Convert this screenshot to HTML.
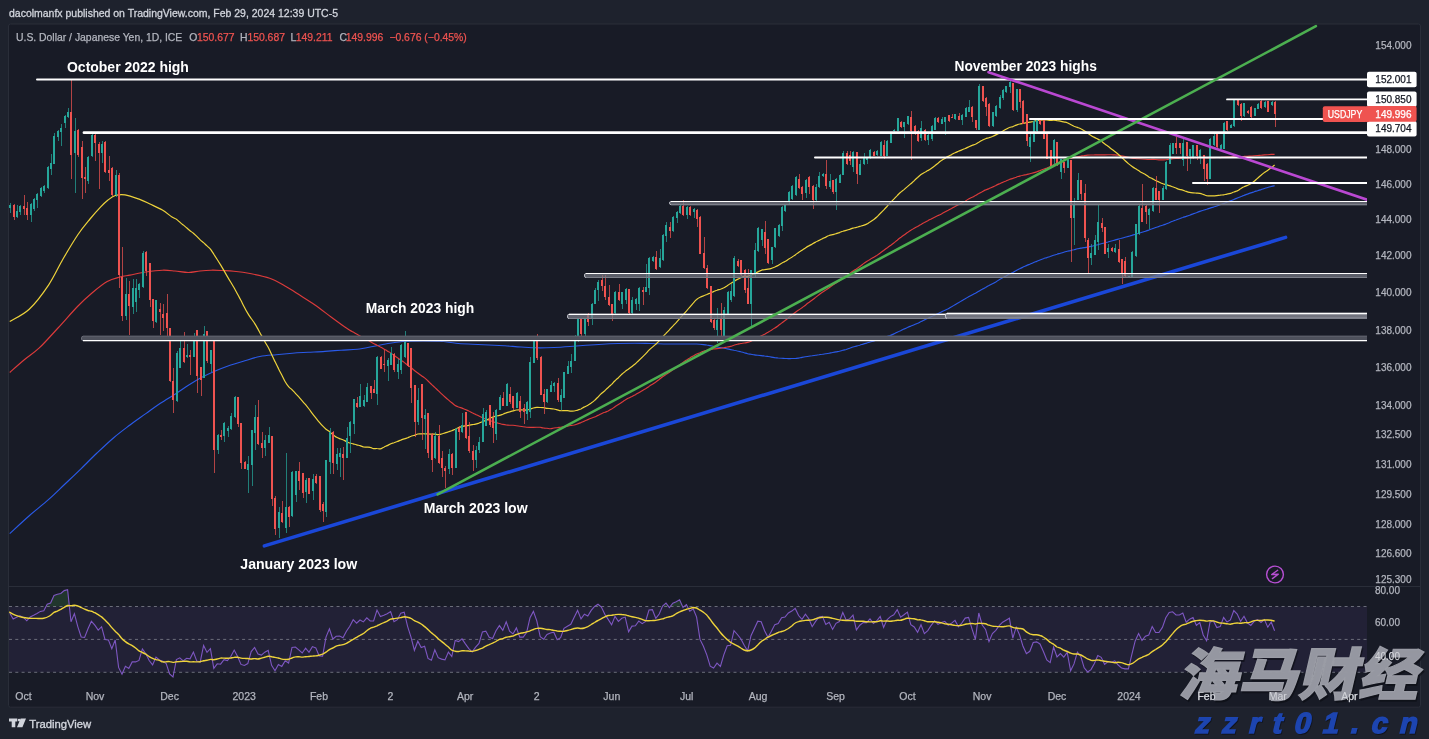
<!DOCTYPE html>
<html><head><meta charset="utf-8"><title>USDJPY chart</title>
<style>html,body{margin:0;padding:0;background:#1e222d;}body{width:1429px;height:739px;overflow:hidden;position:relative;}</style>
</head><body>
<svg width="1429" height="739" viewBox="0 0 1429 739" style="position:absolute;left:0;top:0;will-change:transform"><defs><clipPath id="cm"><rect x="9" y="24" width="1358" height="562"/></clipPath><clipPath id="cr"><rect x="9" y="587" width="1358" height="96"/></clipPath></defs><rect x="8.5" y="24" width="1412" height="683.2" rx="2" fill="#181b26" stroke="#2a2e39" stroke-width="1"/><line x1="9" y1="586.5" x2="1420" y2="586.5" stroke="#2a2e39" stroke-width="1"/><rect x="9" y="606.5" width="1358" height="65.8" fill="#7e57c2" fill-opacity="0.1"/><g clip-path="url(#cm)"><path d="M9.7,533.6 C12.9,530.7 22.5,521.7 29.0,516.0 C35.5,510.3 42.7,504.7 48.7,499.4 C54.7,494.1 59.6,489.1 65.0,484.0 C70.4,478.9 75.9,473.8 81.2,468.6 C86.5,463.4 91.6,458.1 97.0,453.0 C102.4,447.9 108.2,442.4 113.7,437.7 C119.2,433.0 124.6,429.1 130.0,425.0 C135.4,420.9 141.2,417.0 146.2,413.4 C151.2,409.8 155.1,406.8 160.0,403.5 C164.9,400.2 170.7,396.9 175.4,393.9 C180.1,390.9 183.7,388.2 188.0,385.5 C192.3,382.8 197.1,379.9 201.4,377.6 C205.7,375.3 209.7,373.4 214.0,371.5 C218.3,369.6 222.4,367.9 227.4,366.2 C232.4,364.4 238.6,362.6 244.0,361.0 C249.4,359.4 254.5,357.6 259.9,356.5 C265.3,355.4 270.8,355.2 276.2,354.7 C281.6,354.1 287.1,353.6 292.4,353.2 C297.7,352.8 302.6,352.6 308.0,352.3 C313.4,352.0 319.4,351.8 324.9,351.4 C330.4,351.0 335.6,350.6 341.0,350.2 C346.4,349.8 352.1,349.8 357.4,349.2 C362.7,348.6 367.6,347.5 373.0,346.5 C378.4,345.5 384.4,344.2 389.9,343.3 C395.4,342.4 400.6,341.6 406.1,341.2 C411.6,340.8 417.4,340.8 423.0,340.8 C428.6,340.8 434.5,340.8 440.0,341.2 C445.5,341.6 450.6,342.7 456.0,343.2 C461.4,343.7 467.0,343.9 472.5,344.2 C478.0,344.5 483.6,344.7 489.0,345.0 C494.4,345.3 499.7,345.5 505.0,345.8 C510.3,346.1 515.6,346.7 521.0,347.0 C526.4,347.3 532.0,347.7 537.5,347.8 C543.0,347.9 548.6,347.7 554.0,347.5 C559.4,347.3 564.7,346.9 570.0,346.5 C575.3,346.1 580.6,345.7 586.0,345.3 C591.4,344.9 597.1,344.5 602.4,344.2 C607.7,343.9 612.6,343.7 618.0,343.5 C623.4,343.3 629.4,343.2 634.9,343.2 C640.4,343.2 645.6,343.4 651.0,343.5 C656.4,343.6 661.5,343.9 667.4,344.0 C673.3,344.1 682.6,344.0 686.4,344.0 C690.1,344.0 688.6,344.0 689.8,344.0 C690.9,344.0 692.0,344.0 693.2,344.0 C694.3,344.0 695.4,344.0 696.6,344.0 C697.7,344.1 698.8,344.2 700.0,344.3 C701.1,344.4 702.2,344.5 703.4,344.6 C704.5,344.7 705.6,344.8 706.8,345.0 C707.9,345.1 709.0,345.4 710.2,345.6 C711.3,345.8 712.4,346.0 713.6,346.3 C714.7,346.5 715.8,346.7 717.0,346.9 C718.1,347.1 719.2,347.4 720.4,347.6 C721.5,347.9 722.6,348.1 723.8,348.3 C724.9,348.5 726.0,348.7 727.2,348.9 C728.3,349.2 729.4,349.4 730.6,349.6 C731.7,349.8 732.8,350.0 734.0,350.3 C735.1,350.5 736.2,350.7 737.4,351.0 C738.5,351.2 739.6,351.5 740.8,351.8 C741.9,352.0 743.0,352.4 744.2,352.7 C745.3,353.0 746.4,353.4 747.6,353.7 C748.7,354.0 749.8,354.1 751.0,354.3 C752.1,354.5 753.2,354.8 754.4,354.9 C755.5,355.1 756.6,355.2 757.8,355.3 C758.9,355.4 760.0,355.5 761.2,355.6 C762.3,355.7 763.4,355.8 764.6,356.0 C765.7,356.1 766.8,356.3 768.0,356.5 C769.1,356.7 770.2,356.9 771.4,357.1 C772.5,357.3 773.6,357.4 774.8,357.6 C775.9,357.7 777.0,357.8 778.2,358.0 C779.3,358.1 780.4,358.2 781.6,358.3 C782.7,358.4 783.8,358.4 785.0,358.5 C786.1,358.5 787.2,358.6 788.4,358.6 C789.5,358.6 790.6,358.5 791.8,358.5 C792.9,358.5 794.0,358.6 795.2,358.5 C796.3,358.5 797.4,358.3 798.6,358.1 C799.7,357.9 800.8,357.6 802.0,357.4 C803.1,357.2 804.2,357.0 805.4,356.8 C806.5,356.6 807.6,356.4 808.8,356.2 C809.9,356.0 811.0,355.9 812.2,355.8 C813.3,355.6 814.4,355.4 815.6,355.2 C816.7,355.1 817.8,354.8 819.0,354.7 C820.1,354.5 821.2,354.4 822.4,354.3 C823.5,354.1 824.6,354.0 825.8,353.8 C826.9,353.6 828.0,353.4 829.2,353.2 C830.3,353.0 831.4,352.7 832.6,352.5 C833.7,352.3 834.8,352.1 836.0,351.9 C837.1,351.7 838.2,351.4 839.4,351.2 C840.5,350.9 841.6,350.6 842.8,350.3 C843.9,350.0 845.0,349.8 846.2,349.5 C847.3,349.1 848.4,348.7 849.6,348.3 C850.7,347.9 851.8,347.4 853.0,347.0 C854.1,346.7 855.2,346.4 856.4,346.1 C857.5,345.8 858.6,345.5 859.8,345.2 C860.9,344.8 862.0,344.5 863.2,344.1 C864.3,343.8 865.4,343.4 866.6,343.1 C867.7,342.7 868.8,342.4 870.0,342.0 C871.1,341.7 872.2,341.4 873.4,341.1 C874.5,340.7 875.6,340.3 876.8,339.9 C877.9,339.5 879.0,339.0 880.2,338.7 C881.3,338.3 882.4,338.1 883.6,337.8 C884.7,337.4 885.8,337.0 887.0,336.6 C888.1,336.2 889.2,336.0 890.4,335.5 C891.5,335.0 892.6,334.4 893.8,333.9 C894.9,333.3 896.0,332.8 897.2,332.2 C898.3,331.7 899.4,331.2 900.6,330.7 C901.7,330.1 902.8,329.7 904.0,329.1 C905.1,328.6 906.2,328.0 907.4,327.5 C908.5,327.0 909.6,326.5 910.8,326.1 C911.9,325.6 913.0,325.2 914.2,324.7 C915.3,324.3 916.4,323.8 917.6,323.3 C918.7,322.8 919.8,322.2 921.0,321.6 C922.1,321.0 923.2,320.5 924.4,319.9 C925.5,319.4 926.6,318.8 927.8,318.3 C928.9,317.7 930.0,317.3 931.2,316.7 C932.3,316.2 933.4,315.7 934.6,315.2 C935.7,314.7 936.8,314.1 938.0,313.6 C939.1,313.0 940.2,312.5 941.4,311.9 C942.5,311.4 943.6,310.8 944.8,310.3 C945.9,309.7 947.0,309.3 948.2,308.7 C949.3,308.1 950.4,307.4 951.6,306.8 C952.7,306.1 953.8,305.4 955.0,304.7 C956.1,304.1 957.2,303.4 958.4,302.8 C959.5,302.1 960.6,301.4 961.8,300.7 C962.9,300.1 964.0,299.4 965.2,298.8 C966.3,298.1 967.4,297.4 968.6,296.7 C969.7,296.1 970.8,295.5 972.0,294.9 C973.1,294.4 974.2,293.8 975.4,293.2 C976.5,292.6 977.6,291.9 978.8,291.2 C979.9,290.6 981.0,289.9 982.2,289.3 C983.3,288.6 984.4,288.0 985.6,287.4 C986.7,286.8 987.8,286.2 989.0,285.6 C990.1,285.0 991.2,284.4 992.4,283.8 C993.5,283.1 994.6,282.5 995.8,281.9 C996.9,281.2 998.0,280.5 999.2,279.8 C1000.3,279.1 1001.4,278.4 1002.6,277.7 C1003.7,277.1 1004.8,276.5 1006.0,275.9 C1007.1,275.3 1008.2,274.7 1009.4,274.1 C1010.5,273.5 1011.6,273.0 1012.8,272.4 C1013.9,271.8 1015.0,271.1 1016.2,270.5 C1017.3,269.9 1018.4,269.3 1019.6,268.8 C1020.7,268.2 1021.8,267.6 1023.0,267.1 C1024.1,266.6 1025.2,266.1 1026.4,265.6 C1027.5,265.2 1028.6,264.7 1029.8,264.2 C1030.9,263.8 1032.0,263.3 1033.2,262.8 C1034.3,262.4 1035.4,261.9 1036.6,261.4 C1037.7,260.9 1038.8,260.5 1040.0,260.0 C1041.1,259.6 1042.2,259.1 1043.4,258.7 C1044.5,258.3 1045.6,258.0 1046.8,257.6 C1047.9,257.2 1049.0,256.9 1050.2,256.5 C1051.3,256.1 1052.4,255.6 1053.6,255.2 C1054.7,254.9 1055.8,254.6 1057.0,254.3 C1058.1,253.9 1059.2,253.6 1060.4,253.2 C1061.5,252.9 1062.6,252.6 1063.8,252.2 C1064.9,251.9 1066.0,251.5 1067.2,251.2 C1068.3,251.0 1069.4,250.8 1070.6,250.6 C1071.7,250.3 1072.8,250.0 1074.0,249.8 C1075.1,249.5 1076.2,249.1 1077.4,248.8 C1078.5,248.6 1079.6,248.3 1080.8,248.1 C1081.9,247.9 1083.0,247.8 1084.2,247.6 C1085.3,247.4 1086.4,247.3 1087.6,247.1 C1088.7,246.9 1089.8,246.7 1091.0,246.4 C1092.1,246.1 1093.2,245.8 1094.4,245.5 C1095.5,245.2 1096.6,245.0 1097.8,244.7 C1098.9,244.4 1100.0,244.0 1101.2,243.7 C1102.3,243.5 1103.4,243.3 1104.6,243.0 C1105.7,242.7 1106.8,242.3 1108.0,242.0 C1109.1,241.6 1110.2,241.3 1111.4,241.0 C1112.5,240.7 1113.6,240.4 1114.8,240.1 C1115.9,239.8 1117.0,239.4 1118.2,239.1 C1119.3,238.8 1120.4,238.5 1121.6,238.2 C1122.7,237.9 1123.8,237.6 1125.0,237.3 C1126.1,237.0 1127.2,236.7 1128.4,236.4 C1129.5,236.1 1130.6,235.7 1131.8,235.4 C1132.9,235.0 1134.0,234.7 1135.2,234.4 C1136.3,234.0 1137.4,233.6 1138.6,233.3 C1139.7,233.0 1140.8,232.7 1142.0,232.3 C1143.1,232.0 1144.2,231.6 1145.4,231.2 C1146.5,230.9 1147.6,230.5 1148.8,230.1 C1149.9,229.7 1151.0,229.2 1152.2,228.8 C1153.3,228.3 1154.4,227.9 1155.6,227.5 C1156.7,227.2 1157.8,226.8 1159.0,226.4 C1160.1,226.0 1161.2,225.7 1162.4,225.3 C1163.5,224.9 1164.6,224.5 1165.8,224.1 C1166.9,223.6 1168.0,223.2 1169.2,222.7 C1170.3,222.2 1171.4,221.7 1172.6,221.3 C1173.7,220.9 1174.8,220.4 1176.0,220.0 C1177.1,219.6 1178.2,219.2 1179.4,218.8 C1180.5,218.4 1181.6,217.9 1182.8,217.5 C1183.9,217.1 1185.0,216.8 1186.2,216.4 C1187.3,216.0 1188.4,215.6 1189.6,215.2 C1190.7,214.7 1191.8,214.3 1193.0,213.9 C1194.1,213.5 1195.2,213.1 1196.4,212.7 C1197.5,212.3 1198.6,211.9 1199.8,211.4 C1200.9,211.0 1202.0,210.6 1203.2,210.3 C1204.3,209.9 1205.4,209.5 1206.6,209.2 C1207.7,208.8 1208.8,208.4 1210.0,208.1 C1211.1,207.7 1212.2,207.4 1213.4,207.1 C1214.5,206.7 1215.6,206.4 1216.8,206.0 C1217.9,205.7 1219.0,205.2 1220.2,204.8 C1221.3,204.4 1222.4,203.9 1223.6,203.5 C1224.7,203.0 1225.8,202.6 1227.0,202.2 C1228.1,201.8 1229.2,201.4 1230.4,200.9 C1231.5,200.5 1232.6,200.0 1233.8,199.5 C1234.9,199.0 1236.0,198.5 1237.2,198.1 C1238.3,197.6 1239.4,197.2 1240.6,196.7 C1241.7,196.3 1242.8,195.8 1244.0,195.4 C1245.1,195.0 1246.2,194.5 1247.4,194.1 C1248.5,193.7 1249.6,193.3 1250.8,192.9 C1251.9,192.6 1253.0,192.2 1254.2,191.8 C1255.3,191.4 1256.4,191.1 1257.6,190.7 C1258.7,190.4 1259.8,190.0 1261.0,189.6 C1262.1,189.2 1263.2,188.9 1264.4,188.5 C1265.5,188.2 1266.6,187.8 1267.8,187.5 C1268.9,187.2 1270.0,186.8 1271.2,186.5 C1272.3,186.2 1274.0,185.8 1274.6,185.6" fill="none" stroke="#2a5ae8" stroke-width="1.15"/><path d="M9.7,372.5 C12.1,370.4 19.1,364.1 24.0,360.0 C28.9,355.9 33.3,353.5 39.0,348.2 C44.7,342.9 51.5,335.0 58.0,328.0 C64.5,321.0 72.3,311.8 78.0,306.0 C83.7,300.2 87.1,297.1 92.0,293.0 C96.9,288.9 102.5,284.3 107.2,281.6 C111.9,278.9 116.2,278.1 120.0,277.0 C123.8,275.9 125.7,275.9 130.0,275.1 C134.3,274.3 140.6,272.8 146.0,272.0 C151.4,271.2 157.6,270.4 162.4,270.2 C167.2,270.0 170.7,270.6 175.0,271.0 C179.3,271.4 184.2,272.5 188.4,272.5 C192.6,272.5 196.2,271.4 200.0,271.0 C203.8,270.6 207.5,270.3 211.2,270.2 C214.9,270.1 218.2,270.3 222.0,270.5 C225.8,270.7 229.2,270.7 233.9,271.2 C238.6,271.7 244.0,272.3 250.0,273.5 C256.0,274.7 263.9,276.2 269.7,278.3 C275.5,280.4 280.1,283.3 285.0,286.0 C289.9,288.7 293.9,291.4 298.9,294.6 C303.9,297.8 309.6,301.2 315.0,305.0 C320.4,308.8 326.9,314.0 331.4,317.3 C335.9,320.6 339.5,323.2 342.0,325.0 C344.5,326.8 345.1,327.2 346.4,328.0 C347.7,328.9 348.6,329.5 349.8,330.2 C350.9,330.9 352.0,331.4 353.2,332.0 C354.3,332.7 355.4,333.4 356.6,334.0 C357.7,334.7 358.8,335.3 360.0,335.9 C361.1,336.6 362.2,337.3 363.4,337.9 C364.5,338.5 365.6,339.0 366.8,339.6 C367.9,340.2 369.0,340.9 370.2,341.5 C371.3,342.2 372.4,342.9 373.6,343.5 C374.7,344.1 375.8,344.6 377.0,345.2 C378.1,345.8 379.2,346.4 380.4,347.1 C381.5,347.7 382.6,348.3 383.8,348.9 C384.9,349.5 386.0,350.2 387.2,350.9 C388.3,351.6 389.4,352.1 390.6,352.9 C391.7,353.6 392.8,354.5 394.0,355.3 C395.1,356.1 396.2,356.9 397.4,357.7 C398.5,358.5 399.6,359.2 400.8,360.0 C401.9,360.8 403.0,361.5 404.2,362.4 C405.3,363.2 406.4,364.2 407.6,365.0 C408.7,365.9 409.8,366.6 411.0,367.5 C412.1,368.4 413.2,369.6 414.4,370.5 C415.5,371.4 416.6,372.2 417.8,373.0 C418.9,373.9 420.0,374.7 421.2,375.5 C422.3,376.3 423.4,377.0 424.6,377.9 C425.7,378.8 426.8,379.9 428.0,381.0 C429.1,382.0 430.2,383.3 431.4,384.3 C432.5,385.4 433.6,386.3 434.8,387.4 C435.9,388.4 437.0,389.5 438.2,390.6 C439.3,391.7 440.4,392.9 441.6,393.9 C442.7,395.0 443.8,396.0 445.0,397.0 C446.1,398.0 447.2,399.0 448.4,399.9 C449.5,400.9 450.6,401.8 451.8,402.7 C452.9,403.6 454.0,404.7 455.2,405.4 C456.3,406.1 457.4,406.5 458.6,407.0 C459.7,407.4 460.8,407.7 462.0,408.1 C463.1,408.5 464.2,409.1 465.4,409.5 C466.5,410.0 467.6,410.5 468.8,411.0 C469.9,411.5 471.0,412.2 472.2,412.8 C473.3,413.3 474.4,413.9 475.6,414.4 C476.7,414.9 477.8,415.5 479.0,416.0 C480.1,416.6 481.2,417.2 482.4,417.7 C483.5,418.2 484.6,418.7 485.8,419.1 C486.9,419.6 488.0,420.0 489.2,420.4 C490.3,420.8 491.4,421.1 492.6,421.5 C493.7,421.9 494.8,422.3 496.0,422.6 C497.1,423.0 498.2,423.2 499.4,423.5 C500.5,423.8 501.6,424.2 502.8,424.4 C503.9,424.6 505.0,424.8 506.2,425.0 C507.3,425.1 508.4,425.1 509.6,425.2 C510.7,425.2 511.8,425.2 513.0,425.3 C514.1,425.4 515.2,425.5 516.4,425.7 C517.5,425.9 518.6,426.1 519.8,426.3 C520.9,426.5 522.0,426.7 523.2,426.8 C524.3,427.0 525.4,427.2 526.6,427.3 C527.7,427.4 528.8,427.4 530.0,427.4 C531.1,427.4 532.2,427.4 533.4,427.4 C534.5,427.3 535.6,427.2 536.8,427.2 C537.9,427.2 539.0,427.2 540.2,427.3 C541.3,427.5 542.4,427.9 543.6,428.0 C544.7,428.2 545.8,428.2 547.0,428.3 C548.1,428.4 549.2,428.7 550.4,428.7 C551.5,428.6 552.6,428.2 553.8,428.0 C554.9,427.8 556.0,427.8 557.2,427.7 C558.3,427.5 559.4,427.4 560.6,427.2 C561.7,427.1 562.8,426.9 564.0,426.7 C565.1,426.5 566.2,426.3 567.4,426.1 C568.5,425.9 569.6,425.7 570.8,425.5 C571.9,425.3 573.0,425.2 574.2,425.0 C575.3,424.7 576.4,424.3 577.6,423.9 C578.7,423.5 579.8,423.1 581.0,422.6 C582.1,422.1 583.2,421.6 584.4,421.1 C585.5,420.6 586.6,420.1 587.8,419.6 C588.9,419.2 590.0,418.8 591.2,418.3 C592.3,417.9 593.4,417.5 594.6,417.0 C595.7,416.6 596.8,415.9 598.0,415.4 C599.1,414.8 600.2,414.3 601.4,413.7 C602.5,413.2 603.6,412.7 604.8,412.3 C605.9,411.8 607.0,411.5 608.2,411.0 C609.3,410.4 610.4,409.8 611.6,409.1 C612.7,408.4 613.8,407.5 615.0,406.7 C616.1,406.0 617.2,405.4 618.4,404.6 C619.5,403.9 620.6,403.1 621.8,402.3 C622.9,401.6 624.0,400.8 625.2,400.1 C626.3,399.4 627.4,398.7 628.6,398.1 C629.7,397.5 630.8,397.0 632.0,396.4 C633.1,395.8 634.2,395.3 635.4,394.7 C636.5,394.0 637.6,393.4 638.8,392.7 C639.9,392.1 641.0,391.4 642.2,390.7 C643.3,390.1 644.4,389.5 645.6,388.8 C646.7,388.1 647.8,387.2 649.0,386.4 C650.1,385.6 651.2,384.9 652.4,384.2 C653.5,383.4 654.6,382.8 655.8,382.0 C656.9,381.2 658.0,380.4 659.2,379.5 C660.3,378.6 661.4,377.6 662.6,376.7 C663.7,375.9 664.8,375.1 666.0,374.4 C667.1,373.6 668.2,373.1 669.4,372.3 C670.5,371.6 671.6,370.6 672.8,369.8 C673.9,369.0 675.0,368.2 676.2,367.4 C677.3,366.5 678.4,365.7 679.6,364.9 C680.7,364.0 681.8,363.2 683.0,362.4 C684.1,361.6 685.2,360.8 686.4,360.1 C687.5,359.3 688.6,358.6 689.8,358.0 C690.9,357.3 692.0,356.7 693.2,356.0 C694.3,355.4 695.4,354.7 696.6,354.1 C697.7,353.5 698.8,353.1 700.0,352.7 C701.1,352.2 702.2,351.7 703.4,351.3 C704.5,351.0 705.6,350.6 706.8,350.3 C707.9,350.1 709.0,349.9 710.2,349.6 C711.3,349.4 712.4,349.2 713.6,349.0 C714.7,348.8 715.8,348.7 717.0,348.6 C718.1,348.5 719.2,348.4 720.4,348.2 C721.5,348.1 722.6,347.9 723.8,347.7 C724.9,347.5 726.0,347.2 727.2,347.0 C728.3,346.8 729.4,346.7 730.6,346.4 C731.7,346.1 732.8,345.6 734.0,345.2 C735.1,344.9 736.2,344.5 737.4,344.2 C738.5,344.0 739.6,343.7 740.8,343.5 C741.9,343.3 743.0,343.2 744.2,343.0 C745.3,342.8 746.4,342.7 747.6,342.4 C748.7,342.1 749.8,341.7 751.0,341.2 C752.1,340.7 753.2,340.1 754.4,339.5 C755.5,338.9 756.6,338.3 757.8,337.7 C758.9,337.1 760.0,336.4 761.2,335.8 C762.3,335.2 763.4,334.8 764.6,334.2 C765.7,333.6 766.8,332.9 768.0,332.3 C769.1,331.6 770.2,330.9 771.4,330.2 C772.5,329.5 773.6,328.8 774.8,328.1 C775.9,327.4 777.0,326.6 778.2,325.7 C779.3,324.9 780.4,324.0 781.6,323.1 C782.7,322.3 783.8,321.4 785.0,320.5 C786.1,319.6 787.2,318.8 788.4,317.9 C789.5,317.0 790.6,315.9 791.8,315.1 C792.9,314.2 794.0,313.4 795.2,312.5 C796.3,311.7 797.4,310.9 798.6,310.1 C799.7,309.3 800.8,308.6 802.0,307.8 C803.1,307.0 804.2,306.1 805.4,305.2 C806.5,304.3 807.6,303.4 808.8,302.6 C809.9,301.7 811.0,300.9 812.2,300.0 C813.3,299.1 814.4,298.3 815.6,297.4 C816.7,296.5 817.8,295.6 819.0,294.7 C820.1,293.9 821.2,293.1 822.4,292.3 C823.5,291.6 824.6,290.9 825.8,290.1 C826.9,289.3 828.0,288.5 829.2,287.7 C830.3,286.9 831.4,286.1 832.6,285.3 C833.7,284.5 834.8,283.8 836.0,283.0 C837.1,282.3 838.2,281.6 839.4,280.8 C840.5,280.0 841.6,279.1 842.8,278.3 C843.9,277.5 845.0,276.8 846.2,276.1 C847.3,275.3 848.4,274.5 849.6,273.7 C850.7,272.8 851.8,271.9 853.0,271.1 C854.1,270.3 855.2,269.7 856.4,268.9 C857.5,268.2 858.6,267.3 859.8,266.5 C860.9,265.6 862.0,264.8 863.2,263.9 C864.3,263.1 865.4,262.3 866.6,261.5 C867.7,260.8 868.8,260.1 870.0,259.4 C871.1,258.7 872.2,258.2 873.4,257.5 C874.5,256.9 875.6,256.2 876.8,255.5 C877.9,254.7 879.0,253.8 880.2,253.0 C881.3,252.1 882.4,251.3 883.6,250.5 C884.7,249.7 885.8,248.9 887.0,248.1 C888.1,247.2 889.2,246.4 890.4,245.6 C891.5,244.7 892.6,243.9 893.8,243.0 C894.9,242.2 896.0,241.1 897.2,240.2 C898.3,239.3 899.4,238.4 900.6,237.6 C901.7,236.7 902.8,235.9 904.0,235.1 C905.1,234.3 906.2,233.4 907.4,232.6 C908.5,231.8 909.6,231.0 910.8,230.3 C911.9,229.6 913.0,228.9 914.2,228.2 C915.3,227.6 916.4,227.1 917.6,226.5 C918.7,225.8 919.8,225.0 921.0,224.4 C922.1,223.8 923.2,223.2 924.4,222.6 C925.5,222.0 926.6,221.4 927.8,220.8 C928.9,220.1 930.0,219.6 931.2,219.0 C932.3,218.4 933.4,217.8 934.6,217.2 C935.7,216.7 936.8,216.2 938.0,215.6 C939.1,215.1 940.2,214.5 941.4,214.0 C942.5,213.4 943.6,212.8 944.8,212.1 C945.9,211.5 947.0,210.9 948.2,210.3 C949.3,209.7 950.4,209.0 951.6,208.4 C952.7,207.7 953.8,207.2 955.0,206.6 C956.1,206.0 957.2,205.4 958.4,204.8 C959.5,204.2 960.6,203.6 961.8,203.0 C962.9,202.4 964.0,201.8 965.2,201.2 C966.3,200.5 967.4,199.8 968.6,199.1 C969.7,198.5 970.8,197.9 972.0,197.3 C973.1,196.7 974.2,196.2 975.4,195.6 C976.5,195.0 977.6,194.2 978.8,193.6 C979.9,192.9 981.0,192.3 982.2,191.7 C983.3,191.1 984.4,190.4 985.6,189.9 C986.7,189.4 987.8,189.0 989.0,188.6 C990.1,188.1 991.2,187.6 992.4,187.1 C993.5,186.6 994.6,186.0 995.8,185.5 C996.9,184.9 998.0,184.4 999.2,183.9 C1000.3,183.4 1001.4,182.9 1002.6,182.4 C1003.7,181.9 1004.8,181.5 1006.0,181.0 C1007.1,180.5 1008.2,179.9 1009.4,179.5 C1010.5,179.1 1011.6,178.8 1012.8,178.4 C1013.9,178.0 1015.0,177.6 1016.2,177.2 C1017.3,176.8 1018.4,176.5 1019.6,176.1 C1020.7,175.8 1021.8,175.5 1023.0,175.2 C1024.1,175.0 1025.2,174.8 1026.4,174.6 C1027.5,174.3 1028.6,174.1 1029.8,173.8 C1030.9,173.5 1032.0,173.2 1033.2,172.9 C1034.3,172.6 1035.4,172.3 1036.6,171.9 C1037.7,171.5 1038.8,171.0 1040.0,170.6 C1041.1,170.2 1042.2,169.8 1043.4,169.3 C1044.5,168.9 1045.6,168.5 1046.8,168.1 C1047.9,167.6 1049.0,167.1 1050.2,166.6 C1051.3,166.0 1052.4,165.3 1053.6,164.7 C1054.7,164.2 1055.8,163.8 1057.0,163.2 C1058.1,162.7 1059.2,162.1 1060.4,161.6 C1061.5,161.1 1062.6,160.6 1063.8,160.2 C1064.9,159.7 1066.0,159.2 1067.2,158.9 C1068.3,158.6 1069.4,158.4 1070.6,158.2 C1071.7,158.0 1072.8,157.9 1074.0,157.7 C1075.1,157.5 1076.2,157.1 1077.4,156.8 C1078.5,156.6 1079.6,156.3 1080.8,156.1 C1081.9,155.8 1083.0,155.7 1084.2,155.6 C1085.3,155.4 1086.4,155.2 1087.6,155.1 C1088.7,155.0 1089.8,155.0 1091.0,155.0 C1092.1,154.9 1093.2,154.9 1094.4,154.9 C1095.5,154.8 1096.6,154.8 1097.8,154.8 C1098.9,154.8 1100.0,154.8 1101.2,154.8 C1102.3,154.8 1103.4,154.9 1104.6,154.9 C1105.7,154.8 1106.8,154.7 1108.0,154.7 C1109.1,154.7 1110.2,154.7 1111.4,154.7 C1112.5,154.8 1113.6,154.9 1114.8,154.9 C1115.9,155.0 1117.0,155.1 1118.2,155.3 C1119.3,155.5 1120.4,155.7 1121.6,155.9 C1122.7,156.2 1123.8,156.4 1125.0,156.6 C1126.1,156.9 1127.2,157.2 1128.4,157.4 C1129.5,157.7 1130.6,157.9 1131.8,158.1 C1132.9,158.3 1134.0,158.4 1135.2,158.5 C1136.3,158.7 1137.4,158.7 1138.6,158.7 C1139.7,158.8 1140.8,158.9 1142.0,159.0 C1143.1,159.1 1144.2,159.2 1145.4,159.3 C1146.5,159.4 1147.6,159.5 1148.8,159.5 C1149.9,159.5 1151.0,159.4 1152.2,159.4 C1153.3,159.4 1154.4,159.5 1155.6,159.5 C1156.7,159.6 1157.8,159.7 1159.0,159.8 C1160.1,159.8 1161.2,159.9 1162.4,159.9 C1163.5,159.9 1164.6,159.8 1165.8,159.7 C1166.9,159.6 1168.0,159.5 1169.2,159.3 C1170.3,159.2 1171.4,159.0 1172.6,158.8 C1173.7,158.7 1174.8,158.6 1176.0,158.5 C1177.1,158.4 1178.2,158.3 1179.4,158.3 C1180.5,158.2 1181.6,158.2 1182.8,158.2 C1183.9,158.1 1185.0,158.1 1186.2,158.1 C1187.3,158.0 1188.4,158.0 1189.6,158.0 C1190.7,157.9 1191.8,157.9 1193.0,157.9 C1194.1,157.8 1195.2,157.8 1196.4,157.7 C1197.5,157.7 1198.6,157.6 1199.8,157.6 C1200.9,157.6 1202.0,157.6 1203.2,157.7 C1204.3,157.7 1205.4,157.9 1206.6,157.9 C1207.7,157.9 1208.8,157.8 1210.0,157.8 C1211.1,157.7 1212.2,157.6 1213.4,157.6 C1214.5,157.5 1215.6,157.5 1216.8,157.5 C1217.9,157.5 1219.0,157.6 1220.2,157.6 C1221.3,157.5 1222.4,157.3 1223.6,157.2 C1224.7,157.2 1225.8,157.2 1227.0,157.1 C1228.1,157.1 1229.2,157.1 1230.4,157.0 C1231.5,157.0 1232.6,156.8 1233.8,156.7 C1234.9,156.6 1236.0,156.6 1237.2,156.6 C1238.3,156.5 1239.4,156.5 1240.6,156.5 C1241.7,156.4 1242.8,156.3 1244.0,156.3 C1245.1,156.2 1246.2,156.3 1247.4,156.3 C1248.5,156.2 1249.6,156.2 1250.8,156.1 C1251.9,156.0 1253.0,156.0 1254.2,155.8 C1255.3,155.7 1256.4,155.6 1257.6,155.5 C1258.7,155.4 1259.8,155.4 1261.0,155.3 C1262.1,155.2 1263.2,155.0 1264.4,154.9 C1265.5,154.8 1266.6,154.7 1267.8,154.7 C1268.9,154.6 1270.0,154.5 1271.2,154.4 C1272.3,154.4 1274.0,154.4 1274.6,154.4" fill="none" stroke="#dc3b3b" stroke-width="1.15"/><path d="M9.7,321.5 C12.9,319.4 22.7,315.3 29.2,309.2 C35.7,303.1 43.1,293.2 48.7,284.8 C54.3,276.4 58.1,267.4 63.0,259.0 C67.9,250.6 73.5,241.2 78.0,234.5 C82.5,227.8 86.2,223.6 90.0,219.0 C93.8,214.4 97.7,210.1 100.7,206.9 C103.7,203.7 105.6,201.9 108.0,200.0 C110.4,198.1 112.5,196.4 115.3,195.5 C118.1,194.6 120.9,194.2 125.0,194.8 C129.1,195.5 135.5,197.9 139.7,199.4 C143.9,200.9 146.2,202.2 150.0,204.0 C153.8,205.8 158.7,207.9 162.4,210.1 C166.1,212.3 169.7,215.5 172.0,217.0 C174.3,218.5 175.1,218.5 176.4,219.3 C177.7,220.2 178.6,221.2 179.8,222.1 C180.9,223.1 182.0,224.0 183.2,224.9 C184.3,225.9 185.4,226.8 186.6,227.8 C187.7,228.7 188.8,229.8 190.0,230.7 C191.1,231.6 192.2,232.3 193.4,233.3 C194.5,234.3 195.6,235.3 196.8,236.4 C197.9,237.5 199.0,238.9 200.2,239.9 C201.3,240.9 202.4,241.6 203.6,242.6 C204.7,243.6 205.8,244.8 207.0,245.9 C208.1,247.0 209.2,247.7 210.4,249.1 C211.5,250.5 212.6,252.5 213.8,254.2 C214.9,256.0 216.0,257.7 217.2,259.5 C218.3,261.3 219.4,263.1 220.6,264.9 C221.7,266.8 222.8,268.7 224.0,270.6 C225.1,272.6 226.2,274.6 227.4,276.6 C228.5,278.5 229.6,280.4 230.8,282.3 C231.9,284.2 233.0,286.0 234.2,288.0 C235.3,290.0 236.4,292.2 237.6,294.3 C238.7,296.4 239.8,298.3 241.0,300.5 C242.1,302.6 243.2,305.1 244.4,307.2 C245.5,309.4 246.6,311.5 247.8,313.4 C248.9,315.3 250.0,316.8 251.2,318.5 C252.3,320.1 253.4,321.5 254.6,323.3 C255.7,325.0 256.8,327.1 258.0,329.1 C259.1,331.1 260.2,333.4 261.4,335.4 C262.5,337.5 263.6,339.5 264.8,341.5 C265.9,343.5 267.0,345.1 268.2,347.3 C269.3,349.4 270.4,352.0 271.6,354.4 C272.7,356.8 273.8,359.3 275.0,361.6 C276.1,363.9 277.2,366.2 278.4,368.4 C279.5,370.7 280.6,372.8 281.8,375.0 C282.9,377.2 284.0,379.8 285.2,381.8 C286.3,383.7 287.4,385.3 288.6,386.6 C289.7,387.9 290.8,388.6 292.0,389.7 C293.1,390.8 294.2,392.1 295.4,393.3 C296.5,394.4 297.6,395.5 298.8,396.8 C299.9,398.0 301.0,399.5 302.2,400.9 C303.3,402.2 304.4,403.4 305.6,404.7 C306.7,406.1 307.8,407.5 309.0,409.0 C310.1,410.4 311.2,412.1 312.4,413.6 C313.5,415.1 314.6,416.5 315.8,417.9 C316.9,419.3 318.0,420.8 319.2,422.1 C320.3,423.4 321.4,424.7 322.6,425.9 C323.7,427.1 324.8,428.2 326.0,429.2 C327.1,430.1 328.2,430.7 329.4,431.6 C330.5,432.5 331.6,433.7 332.8,434.6 C333.9,435.5 335.0,436.5 336.2,437.1 C337.3,437.8 338.4,438.2 339.6,438.6 C340.7,439.0 341.8,439.3 343.0,439.8 C344.1,440.2 345.2,440.9 346.4,441.5 C347.5,442.0 348.6,442.6 349.8,443.0 C350.9,443.4 352.0,443.5 353.2,443.8 C354.3,444.1 355.4,444.5 356.6,444.8 C357.7,445.1 358.8,445.3 360.0,445.6 C361.1,446.0 362.2,446.6 363.4,446.9 C364.5,447.1 365.6,447.0 366.8,447.1 C367.9,447.2 369.0,447.1 370.2,447.4 C371.3,447.6 372.4,448.4 373.6,448.6 C374.7,448.8 375.8,448.4 377.0,448.5 C378.1,448.5 379.2,449.1 380.4,448.9 C381.5,448.7 382.6,447.7 383.8,447.2 C384.9,446.6 386.0,446.2 387.2,445.6 C388.3,445.1 389.4,444.4 390.6,443.9 C391.7,443.4 392.8,443.2 394.0,442.8 C395.1,442.4 396.2,442.0 397.4,441.5 C398.5,441.1 399.6,440.5 400.8,440.1 C401.9,439.6 403.0,439.3 404.2,438.9 C405.3,438.6 406.4,438.2 407.6,437.8 C408.7,437.3 409.8,436.7 411.0,436.3 C412.1,435.9 413.2,435.7 414.4,435.3 C415.5,435.0 416.6,434.3 417.8,434.0 C418.9,433.8 420.0,433.9 421.2,433.8 C422.3,433.8 423.4,433.7 424.6,433.8 C425.7,433.8 426.8,433.9 428.0,433.9 C429.1,434.0 430.2,434.2 431.4,434.2 C432.5,434.2 433.6,434.0 434.8,434.1 C435.9,434.2 437.0,434.7 438.2,434.7 C439.3,434.6 440.4,434.3 441.6,434.0 C442.7,433.8 443.8,433.3 445.0,432.9 C446.1,432.5 447.2,432.1 448.4,431.8 C449.5,431.4 450.6,431.2 451.8,430.7 C452.9,430.3 454.0,429.7 455.2,429.2 C456.3,428.7 457.4,428.0 458.6,427.5 C459.7,427.1 460.8,426.9 462.0,426.6 C463.1,426.3 464.2,426.1 465.4,425.9 C466.5,425.7 467.6,425.6 468.8,425.3 C469.9,425.1 471.0,424.9 472.2,424.7 C473.3,424.5 474.4,424.4 475.6,424.1 C476.7,423.8 477.8,423.5 479.0,423.1 C480.1,422.7 481.2,422.2 482.4,421.8 C483.5,421.3 484.6,420.9 485.8,420.4 C486.9,419.9 488.0,419.3 489.2,418.7 C490.3,418.2 491.4,417.5 492.6,417.1 C493.7,416.7 494.8,416.4 496.0,416.1 C497.1,415.8 498.2,415.7 499.4,415.4 C500.5,415.1 501.6,414.7 502.8,414.3 C503.9,413.8 505.0,413.3 506.2,412.9 C507.3,412.5 508.4,412.2 509.6,411.9 C510.7,411.5 511.8,411.2 513.0,410.9 C514.1,410.6 515.2,410.2 516.4,410.0 C517.5,409.8 518.6,409.8 519.8,409.8 C520.9,409.8 522.0,410.0 523.2,410.0 C524.3,410.1 525.4,410.1 526.6,409.9 C527.7,409.8 528.8,409.6 530.0,409.2 C531.1,408.9 532.2,408.3 533.4,408.0 C534.5,407.7 535.6,407.5 536.8,407.4 C537.9,407.3 539.0,407.4 540.2,407.5 C541.3,407.5 542.4,407.5 543.6,407.7 C544.7,407.8 545.8,408.1 547.0,408.3 C548.1,408.5 549.2,408.5 550.4,408.6 C551.5,408.7 552.6,408.8 553.8,409.0 C554.9,409.2 556.0,409.5 557.2,409.8 C558.3,410.1 559.4,410.5 560.6,410.7 C561.7,410.8 562.8,410.7 564.0,410.7 C565.1,410.7 566.2,410.7 567.4,410.7 C568.5,410.8 569.6,411.0 570.8,411.1 C571.9,411.1 573.0,411.2 574.2,411.0 C575.3,410.9 576.4,410.4 577.6,410.1 C578.7,409.7 579.8,409.5 581.0,409.0 C582.1,408.4 583.2,407.5 584.4,406.9 C585.5,406.3 586.6,406.0 587.8,405.3 C588.9,404.6 590.0,403.8 591.2,403.0 C592.3,402.2 593.4,401.4 594.6,400.4 C595.7,399.4 596.8,398.1 598.0,397.0 C599.1,395.8 600.2,394.5 601.4,393.5 C602.5,392.4 603.6,391.6 604.8,390.7 C605.9,389.7 607.0,388.5 608.2,387.5 C609.3,386.4 610.4,385.5 611.6,384.4 C612.7,383.3 613.8,381.9 615.0,380.8 C616.1,379.7 617.2,378.8 618.4,377.7 C619.5,376.6 620.6,375.3 621.8,374.2 C622.9,373.2 624.0,372.3 625.2,371.4 C626.3,370.5 627.4,369.9 628.6,369.0 C629.7,368.2 630.8,367.4 632.0,366.5 C633.1,365.7 634.2,364.8 635.4,363.8 C636.5,362.8 637.6,361.6 638.8,360.5 C639.9,359.4 641.0,358.3 642.2,357.2 C643.3,356.1 644.4,355.1 645.6,353.9 C646.7,352.8 647.8,351.4 649.0,350.2 C650.1,349.1 651.2,348.1 652.4,347.1 C653.5,346.1 654.6,345.2 655.8,344.2 C656.9,343.2 658.0,342.1 659.2,340.9 C660.3,339.7 661.4,338.3 662.6,337.0 C663.7,335.7 664.8,334.5 666.0,333.3 C667.1,332.1 668.2,331.1 669.4,329.9 C670.5,328.7 671.6,327.3 672.8,326.1 C673.9,324.9 675.0,323.9 676.2,322.7 C677.3,321.4 678.4,320.0 679.6,318.7 C680.7,317.4 681.8,316.1 683.0,314.8 C684.1,313.6 685.2,312.4 686.4,311.1 C687.5,309.8 688.6,308.5 689.8,307.2 C690.9,305.8 692.0,304.4 693.2,303.1 C694.3,301.8 695.4,300.4 696.6,299.5 C697.7,298.5 698.8,297.9 700.0,297.3 C701.1,296.7 702.2,296.3 703.4,295.9 C704.5,295.4 705.6,295.0 706.8,294.5 C707.9,294.0 709.0,293.5 710.2,293.1 C711.3,292.6 712.4,292.1 713.6,291.6 C714.7,291.2 715.8,290.7 717.0,290.3 C718.1,289.9 719.2,289.6 720.4,289.2 C721.5,288.8 722.6,288.4 723.8,287.8 C724.9,287.2 726.0,286.4 727.2,285.7 C728.3,285.0 729.4,284.3 730.6,283.6 C731.7,282.9 732.8,282.1 734.0,281.4 C735.1,280.7 736.2,280.0 737.4,279.4 C738.5,278.8 739.6,278.2 740.8,277.7 C741.9,277.3 743.0,276.9 744.2,276.7 C745.3,276.5 746.4,276.7 747.6,276.4 C748.7,276.2 749.8,275.6 751.0,275.1 C752.1,274.7 753.2,274.3 754.4,273.8 C755.5,273.2 756.6,272.5 757.8,271.9 C758.9,271.3 760.0,270.8 761.2,270.4 C762.3,270.0 763.4,269.8 764.6,269.6 C765.7,269.3 766.8,269.4 768.0,269.2 C769.1,269.0 770.2,268.8 771.4,268.4 C772.5,268.0 773.6,267.5 774.8,267.0 C775.9,266.5 777.0,266.0 778.2,265.4 C779.3,264.8 780.4,263.9 781.6,263.3 C782.7,262.6 783.8,262.2 785.0,261.5 C786.1,260.9 787.2,260.1 788.4,259.3 C789.5,258.6 790.6,257.9 791.8,257.2 C792.9,256.5 794.0,255.7 795.2,254.9 C796.3,254.2 797.4,253.2 798.6,252.4 C799.7,251.7 800.8,251.1 802.0,250.3 C803.1,249.6 804.2,248.7 805.4,247.9 C806.5,247.2 807.6,246.5 808.8,245.9 C809.9,245.3 811.0,244.7 812.2,244.1 C813.3,243.4 814.4,242.7 815.6,242.1 C816.7,241.4 817.8,241.0 819.0,240.4 C820.1,239.8 821.2,239.3 822.4,238.7 C823.5,238.2 824.6,237.6 825.8,237.1 C826.9,236.5 828.0,235.9 829.2,235.5 C830.3,235.1 831.4,234.9 832.6,234.6 C833.7,234.3 834.8,234.1 836.0,233.7 C837.1,233.4 838.2,233.0 839.4,232.6 C840.5,232.2 841.6,231.7 842.8,231.3 C843.9,230.9 845.0,230.6 846.2,230.3 C847.3,230.0 848.4,229.7 849.6,229.4 C850.7,229.0 851.8,228.4 853.0,228.1 C854.1,227.8 855.2,227.7 856.4,227.4 C857.5,227.1 858.6,226.7 859.8,226.4 C860.9,226.1 862.0,225.7 863.2,225.4 C864.3,225.0 865.4,224.7 866.6,224.1 C867.7,223.6 868.8,222.7 870.0,222.0 C871.1,221.3 872.2,220.6 873.4,219.8 C874.5,218.9 875.6,218.1 876.8,217.0 C877.9,216.0 879.0,214.6 880.2,213.5 C881.3,212.3 882.4,211.2 883.6,210.1 C884.7,208.9 885.8,207.7 887.0,206.5 C888.1,205.3 889.2,203.9 890.4,202.6 C891.5,201.4 892.6,200.2 893.8,199.1 C894.9,197.9 896.0,196.7 897.2,195.6 C898.3,194.5 899.4,193.3 900.6,192.3 C901.7,191.3 902.8,190.6 904.0,189.6 C905.1,188.6 906.2,187.6 907.4,186.6 C908.5,185.6 909.6,184.7 910.8,183.7 C911.9,182.8 913.0,181.7 914.2,180.7 C915.3,179.6 916.4,178.5 917.6,177.5 C918.7,176.5 919.8,175.5 921.0,174.6 C922.1,173.8 923.2,173.1 924.4,172.5 C925.5,171.8 926.6,171.3 927.8,170.6 C928.9,170.0 930.0,169.3 931.2,168.5 C932.3,167.8 933.4,166.9 934.6,166.0 C935.7,165.1 936.8,164.1 938.0,163.2 C939.1,162.3 940.2,161.4 941.4,160.6 C942.5,159.8 943.6,159.1 944.8,158.4 C945.9,157.7 947.0,157.0 948.2,156.4 C949.3,155.7 950.4,155.2 951.6,154.6 C952.7,154.0 953.8,153.3 955.0,152.8 C956.1,152.2 957.2,151.8 958.4,151.3 C959.5,150.9 960.6,150.4 961.8,149.9 C962.9,149.4 964.0,149.0 965.2,148.5 C966.3,148.0 967.4,147.4 968.6,146.9 C969.7,146.4 970.8,145.8 972.0,145.4 C973.1,144.9 974.2,144.8 975.4,144.3 C976.5,143.8 977.6,143.0 978.8,142.3 C979.9,141.6 981.0,140.9 982.2,140.3 C983.3,139.7 984.4,139.2 985.6,138.7 C986.7,138.3 987.8,138.1 989.0,137.7 C990.1,137.4 991.2,137.0 992.4,136.5 C993.5,136.0 994.6,135.5 995.8,134.9 C996.9,134.4 998.0,133.9 999.2,133.2 C1000.3,132.6 1001.4,131.9 1002.6,131.2 C1003.7,130.6 1004.8,130.0 1006.0,129.3 C1007.1,128.7 1008.2,127.9 1009.4,127.5 C1010.5,127.0 1011.6,127.0 1012.8,126.6 C1013.9,126.2 1015.0,125.6 1016.2,125.1 C1017.3,124.7 1018.4,124.2 1019.6,124.0 C1020.7,123.7 1021.8,123.6 1023.0,123.4 C1024.1,123.2 1025.2,122.9 1026.4,122.7 C1027.5,122.5 1028.6,122.4 1029.8,122.2 C1030.9,122.0 1032.0,121.7 1033.2,121.5 C1034.3,121.2 1035.4,120.9 1036.6,120.7 C1037.7,120.5 1038.8,120.3 1040.0,120.2 C1041.1,120.1 1042.2,119.9 1043.4,119.9 C1044.5,119.8 1045.6,119.9 1046.8,120.0 C1047.9,120.1 1049.0,120.5 1050.2,120.5 C1051.3,120.5 1052.4,120.2 1053.6,120.2 C1054.7,120.2 1055.8,120.5 1057.0,120.7 C1058.1,120.8 1059.2,120.9 1060.4,121.1 C1061.5,121.4 1062.6,121.6 1063.8,121.9 C1064.9,122.2 1066.0,122.3 1067.2,122.7 C1068.3,123.2 1069.4,124.0 1070.6,124.5 C1071.7,125.1 1072.8,125.7 1074.0,126.2 C1075.1,126.6 1076.2,127.0 1077.4,127.4 C1078.5,127.8 1079.6,128.1 1080.8,128.7 C1081.9,129.2 1083.0,130.0 1084.2,130.7 C1085.3,131.4 1086.4,132.2 1087.6,133.0 C1088.7,133.8 1089.8,134.7 1091.0,135.4 C1092.1,136.2 1093.2,136.8 1094.4,137.4 C1095.5,138.0 1096.6,138.5 1097.8,139.1 C1098.9,139.7 1100.0,140.3 1101.2,141.1 C1102.3,141.9 1103.4,142.9 1104.6,143.8 C1105.7,144.7 1106.8,145.4 1108.0,146.3 C1109.1,147.1 1110.2,148.0 1111.4,148.9 C1112.5,149.7 1113.6,150.6 1114.8,151.5 C1115.9,152.4 1117.0,153.3 1118.2,154.2 C1119.3,155.2 1120.4,156.3 1121.6,157.3 C1122.7,158.3 1123.8,159.4 1125.0,160.5 C1126.1,161.5 1127.2,162.6 1128.4,163.6 C1129.5,164.5 1130.6,165.4 1131.8,166.3 C1132.9,167.1 1134.0,167.9 1135.2,168.6 C1136.3,169.3 1137.4,169.9 1138.6,170.6 C1139.7,171.3 1140.8,172.1 1142.0,172.7 C1143.1,173.3 1144.2,173.7 1145.4,174.4 C1146.5,175.1 1147.6,176.2 1148.8,176.9 C1149.9,177.6 1151.0,178.0 1152.2,178.6 C1153.3,179.2 1154.4,180.0 1155.6,180.5 C1156.7,181.1 1157.8,181.5 1159.0,182.0 C1160.1,182.5 1161.2,183.1 1162.4,183.5 C1163.5,184.0 1164.6,184.3 1165.8,184.7 C1166.9,185.0 1168.0,185.3 1169.2,185.7 C1170.3,186.0 1171.4,186.4 1172.6,186.8 C1173.7,187.2 1174.8,187.6 1176.0,188.0 C1177.1,188.5 1178.2,189.1 1179.4,189.4 C1180.5,189.7 1181.6,189.7 1182.8,190.1 C1183.9,190.4 1185.0,191.1 1186.2,191.4 C1187.3,191.8 1188.4,192.2 1189.6,192.4 C1190.7,192.6 1191.8,192.7 1193.0,192.8 C1194.1,193.0 1195.2,193.0 1196.4,193.1 C1197.5,193.2 1198.6,193.2 1199.8,193.4 C1200.9,193.6 1202.0,194.0 1203.2,194.4 C1204.3,194.7 1205.4,195.3 1206.6,195.6 C1207.7,195.8 1208.8,195.9 1210.0,195.9 C1211.1,195.9 1212.2,195.9 1213.4,195.8 C1214.5,195.8 1215.6,195.7 1216.8,195.6 C1217.9,195.5 1219.0,195.3 1220.2,195.2 C1221.3,195.0 1222.4,195.0 1223.6,194.8 C1224.7,194.6 1225.8,194.3 1227.0,194.1 C1228.1,193.9 1229.2,193.8 1230.4,193.4 C1231.5,193.1 1232.6,192.4 1233.8,192.0 C1234.9,191.6 1236.0,191.4 1237.2,190.9 C1238.3,190.4 1239.4,189.5 1240.6,188.8 C1241.7,188.1 1242.8,187.3 1244.0,186.8 C1245.1,186.2 1246.2,185.9 1247.4,185.4 C1248.5,184.9 1249.6,184.5 1250.8,183.8 C1251.9,183.2 1253.0,182.2 1254.2,181.2 C1255.3,180.3 1256.4,179.2 1257.6,178.2 C1258.7,177.2 1259.8,176.2 1261.0,175.3 C1262.1,174.3 1263.2,173.3 1264.4,172.5 C1265.5,171.7 1266.6,171.1 1267.8,170.3 C1268.9,169.5 1270.0,168.7 1271.2,167.8 C1272.3,166.9 1274.0,165.5 1274.6,165.0" fill="none" stroke="#eed33b" stroke-width="1.2"/><path d="M10.5,203V213M17.5,205V218M20.5,205V215M31.5,203V222M34.5,198V211M37.5,193V208M41.5,187V197M44.5,185V193M48.5,166V189M51.5,154V175M54.5,133V164M58.5,130V141M61.5,124V146M65.5,115V128M68.5,108V118M75.5,118V193M88.5,156V184M92.5,134V157M102.5,141V163M116.5,170V197M126.5,278V320M133.5,279V314M136.5,279V312M139.5,283V298M143.5,251V288M156.5,300V323M177.5,351V402M180.5,341V368M187.5,344V358M194.5,333V357M204.5,326V378M211.5,350V372M218.5,434V454M224.5,422V442M228.5,426V437M231.5,413V430M235.5,396V418M248.5,456V493M252.5,430V486M255.5,405V450M265.5,435V456M269.5,427V443M279.5,507V538M286.5,453V533M292.5,471V517M296.5,471V502M306.5,478V503M313.5,474V500M326.5,460V517M330.5,428V474M337.5,448V470M340.5,448V477M347.5,427V458M350.5,421V453M354.5,399V434M360.5,384V407M364.5,395V407M367.5,383V402M377.5,356V405M388.5,358V381M391.5,347V365M398.5,359V379M401.5,344V374M405.5,331V358M418.5,388V425M425.5,409V449M435.5,432V459M449.5,449V474M456.5,428V468M462.5,413V433M476.5,446V468M479.5,437V453M483.5,408V442M486.5,410V426M496.5,409V440M500.5,395V410M507.5,383V406M517.5,392V408M527.5,401V420M530.5,357V418M534.5,340V363M547.5,389V403M551.5,381V392M554.5,382V392M561.5,389V410M564.5,372V398M568.5,361V374M571.5,354V373M575.5,335V361M578.5,319V342M585.5,319V336M592.5,303V325M595.5,288V304M598.5,280V301M615.5,291V314M622.5,292V309M626.5,288V304M632.5,297V314M636.5,298V310M639.5,287V311M646.5,264V292M649.5,257V295M653.5,256V262M660.5,249V268M663.5,234V261M666.5,222V242M673.5,216V232M677.5,211V223M680.5,205V214M687.5,206V219M694.5,208V218M717.5,308V343M724.5,307V340M728.5,291V314M731.5,284V302M734.5,256V297M751.5,270V326M755.5,243V277M758.5,227V252M762.5,229V246M772.5,247V264M775.5,228V248M779.5,224V237M782.5,206V231M785.5,204V212M789.5,191V204M792.5,185V200M796.5,176V196M806.5,179V198M816.5,184V201M819.5,172V188M823.5,173V177M830.5,174V189M836.5,178V210M840.5,174V183M843.5,151V175M853.5,151V172M860.5,160V175M864.5,153V165M867.5,157V164M870.5,149V159M877.5,150V156M881.5,141V156M887.5,140V156M891.5,133V143M894.5,129V132M898.5,118V131M904.5,122V138M908.5,116V125M921.5,121V141M928.5,132V145M932.5,125V141M935.5,117V130M942.5,117V124M945.5,117V135M955.5,114V120M962.5,114V125M966.5,107V117M969.5,100V112M979.5,84V130M993.5,112V127M996.5,105V117M1000.5,95V109M1003.5,89V100M1006.5,86V93M1010.5,81V93M1017.5,89V112M1030.5,132V162M1034.5,120V142M1037.5,119V132M1054.5,139V166M1061.5,159V179M1068.5,159V168M1074.5,198V245M1078.5,173V200M1091.5,244V265M1095.5,235V255M1098.5,205V250M1108.5,244V258M1115.5,244V253M1129.5,276V278M1132.5,251V278M1136.5,224V257M1139.5,205V235M1149.5,208V229M1153.5,187V212M1163.5,186V200M1166.5,161V190M1170.5,143V164M1173.5,143V154M1183.5,139V166M1190.5,149V164M1193.5,145V159M1200.5,149V164M1210.5,138V179M1214.5,134V146M1221.5,144V149M1224.5,122V149M1231.5,124V128M1234.5,100V127M1244.5,103V117M1255.5,108V116M1258.5,103V109M1265.5,101V108M1272.5,101V106" stroke="#26a69a" stroke-width="1" stroke-opacity="0.72" fill="none"/><path d="M14.5,204V220M24.5,195V215M27.5,202V220M71.5,80V179M78.5,129V157M82.5,141V199M85.5,167V193M95.5,134V161M99.5,142V189M105.5,141V173M109.5,156V181M112.5,167V196M119.5,173V288M122.5,247V321M129.5,281V335M146.5,251V276M150.5,263V307M153.5,299V328M160.5,303V335M163.5,304V331M167.5,294V336M170.5,328V382M173.5,368V413M184.5,332V363M190.5,350V375M197.5,330V393M201.5,367V396M207.5,331V363M214.5,340V473M221.5,430V440M238.5,397V427M241.5,423V469M245.5,461V469M258.5,400V445M262.5,432V458M272.5,436V506M275.5,496V535M282.5,501V523M289.5,506V527M299.5,462V490M303.5,473V498M309.5,478V494M316.5,474V484M320.5,476V512M323.5,502V522M333.5,431V474M343.5,447V480M357.5,397V408M371.5,386V399M374.5,380V393M381.5,356V369M384.5,350V372M394.5,353V372M408.5,343V367M411.5,348V403M415.5,385V437M422.5,384V440M428.5,413V458M432.5,433V472M439.5,425V464M442.5,451V477M445.5,466V488M452.5,453V475M459.5,426V440M466.5,412V439M469.5,422V453M473.5,445V471M490.5,405V427M493.5,412V443M503.5,392V406M510.5,387V404M513.5,396V410M520.5,396V418M524.5,404V424M537.5,334V360M541.5,356V395M544.5,389V414M558.5,378V402M581.5,319V336M588.5,313V326M602.5,275V291M605.5,275V300M609.5,285V306M612.5,304V321M619.5,284V301M629.5,289V314M643.5,287V305M656.5,251V270M670.5,222V238M683.5,200V216M690.5,206V216M697.5,209V227M700.5,216V254M704.5,237V269M707.5,265V289M711.5,286V323M714.5,318V330M721.5,303V338M738.5,259V267M741.5,260V276M745.5,269V293M748.5,269V304M765.5,221V254M768.5,239V264M799.5,174V189M802.5,186V200M809.5,176V194M813.5,185V209M826.5,160V189M833.5,180V194M847.5,151V165M850.5,151V165M857.5,152V184M874.5,151V156M884.5,140V159M901.5,121V128M911.5,111V160M915.5,125V135M918.5,130V142M925.5,129V141M938.5,117V123M949.5,115V122M952.5,114V118M959.5,113V120M972.5,106V122M976.5,120V130M983.5,86V102M986.5,97V116M989.5,103V127M1013.5,83V111M1020.5,89V108M1023.5,100V124M1027.5,114V146M1040.5,119V125M1044.5,119V139M1047.5,134V159M1051.5,150V166M1057.5,142V166M1064.5,162V173M1071.5,160V262M1081.5,180V200M1085.5,184V242M1088.5,238V273M1102.5,218V232M1105.5,227V254M1112.5,247V252M1119.5,240V263M1122.5,259V284M1125.5,257V278M1142.5,184V222M1146.5,205V224M1156.5,176V200M1159.5,191V213M1176.5,137V154M1180.5,143V154M1187.5,142V171M1197.5,145V160M1204.5,155V181M1207.5,163V185M1217.5,134V148M1227.5,121V131M1238.5,100V106M1241.5,103V121M1248.5,110V114M1251.5,106V118M1261.5,100V109M1268.5,101V112M1275.5,101V127" stroke="#ef5350" stroke-width="1" stroke-opacity="0.72" fill="none"/><path d="M9,205h2V208h-2ZM16,211h2V217h-2ZM19,206h2V212h-2ZM30,204h2V215h-2ZM33,199h2V209h-2ZM36,194h2V200h-2ZM40,188h2V196h-2ZM43,186h2V191h-2ZM47,167h2V188h-2ZM50,163h2V169h-2ZM53,136h2V164h-2ZM57,131h2V137h-2ZM60,128h2V132h-2ZM64,116h2V123h-2ZM67,112h2V117h-2ZM74,131h2V153h-2ZM87,157h2V181h-2ZM91,135h2V156h-2ZM101,144h2V153h-2ZM115,175h2V195h-2ZM125,294h2V316h-2ZM132,288h2V307h-2ZM135,288h2V302h-2ZM138,284h2V290h-2ZM142,253h2V287h-2ZM155,300h2V322h-2ZM176,353h2V401h-2ZM179,348h2V368h-2ZM186,355h2V357h-2ZM193,340h2V357h-2ZM203,334h2V378h-2ZM210,350h2V364h-2ZM217,435h2V450h-2ZM223,423h2V436h-2ZM227,428h2V431h-2ZM230,416h2V429h-2ZM234,397h2V417h-2ZM247,464h2V470h-2ZM251,430h2V465h-2ZM254,417h2V433h-2ZM264,440h2V448h-2ZM268,435h2V443h-2ZM278,512h2V528h-2ZM285,507h2V528h-2ZM291,472h2V516h-2ZM295,471h2V495h-2ZM305,480h2V492h-2ZM312,479h2V491h-2ZM325,460h2V512h-2ZM329,432h2V462h-2ZM336,454h2V464h-2ZM339,453h2V457h-2ZM346,438h2V458h-2ZM349,422h2V436h-2ZM353,399h2V424h-2ZM359,396h2V407h-2ZM363,400h2V406h-2ZM366,387h2V402h-2ZM376,357h2V394h-2ZM387,360h2V366h-2ZM390,353h2V365h-2ZM397,364h2V372h-2ZM400,345h2V370h-2ZM404,342h2V357h-2ZM417,400h2V422h-2ZM424,415h2V419h-2ZM434,436h2V458h-2ZM448,454h2V469h-2ZM455,429h2V468h-2ZM461,425h2V432h-2ZM475,450h2V460h-2ZM478,442h2V450h-2ZM482,414h2V442h-2ZM485,412h2V426h-2ZM495,410h2V434h-2ZM499,397h2V410h-2ZM506,384h2V406h-2ZM516,393h2V408h-2ZM526,402h2V414h-2ZM529,362h2V412h-2ZM533,340h2V363h-2ZM546,389h2V402h-2ZM550,385h2V392h-2ZM553,383h2V386h-2ZM560,395h2V402h-2ZM563,372h2V398h-2ZM567,366h2V374h-2ZM570,361h2V367h-2ZM574,341h2V361h-2ZM577,319h2V336h-2ZM584,319h2V334h-2ZM591,304h2V319h-2ZM594,290h2V304h-2ZM597,282h2V290h-2ZM614,292h2V313h-2ZM621,292h2V304h-2ZM625,289h2V300h-2ZM631,300h2V313h-2ZM635,299h2V304h-2ZM638,288h2V304h-2ZM645,287h2V292h-2ZM648,258h2V288h-2ZM652,257h2V261h-2ZM659,258h2V267h-2ZM662,235h2V260h-2ZM665,225h2V236h-2ZM672,217h2V231h-2ZM676,212h2V218h-2ZM679,206h2V213h-2ZM686,207h2V215h-2ZM693,209h2V212h-2ZM716,320h2V330h-2ZM723,310h2V336h-2ZM727,292h2V314h-2ZM730,291h2V300h-2ZM733,258h2V296h-2ZM750,270h2V304h-2ZM754,250h2V275h-2ZM757,228h2V251h-2ZM761,229h2V240h-2ZM771,247h2V260h-2ZM774,228h2V247h-2ZM778,225h2V236h-2ZM781,207h2V226h-2ZM784,205h2V211h-2ZM788,192h2V201h-2ZM791,186h2V199h-2ZM795,177h2V195h-2ZM805,180h2V193h-2ZM815,187h2V200h-2ZM818,176h2V187h-2ZM822,174h2V176h-2ZM829,181h2V187h-2ZM835,179h2V192h-2ZM839,175h2V183h-2ZM842,153h2V175h-2ZM852,152h2V167h-2ZM859,164h2V175h-2ZM863,158h2V164h-2ZM866,158h2V160h-2ZM869,150h2V157h-2ZM876,151h2V155h-2ZM880,142h2V156h-2ZM886,141h2V156h-2ZM890,134h2V143h-2ZM893,130h2V131h-2ZM897,118h2V131h-2ZM903,122h2V127h-2ZM907,116h2V124h-2ZM920,128h2V138h-2ZM927,135h2V140h-2ZM931,126h2V139h-2ZM934,118h2V130h-2ZM941,119h2V124h-2ZM944,117h2V122h-2ZM954,114h2V119h-2ZM961,115h2V120h-2ZM965,108h2V117h-2ZM968,107h2V112h-2ZM978,86h2V130h-2ZM992,112h2V126h-2ZM995,106h2V116h-2ZM999,97h2V108h-2ZM1002,90h2V98h-2ZM1005,86h2V92h-2ZM1009,82h2V87h-2ZM1016,89h2V110h-2ZM1029,137h2V147h-2ZM1033,121h2V142h-2ZM1036,120h2V131h-2ZM1053,140h2V159h-2ZM1060,159h2V172h-2ZM1067,160h2V168h-2ZM1073,205h2V218h-2ZM1077,180h2V200h-2ZM1090,253h2V258h-2ZM1094,240h2V255h-2ZM1097,222h2V242h-2ZM1107,248h2V252h-2ZM1114,248h2V252h-2ZM1128,276h2V277h-2ZM1131,252h2V277h-2ZM1135,224h2V256h-2ZM1138,206h2V234h-2ZM1148,209h2V215h-2ZM1152,188h2V211h-2ZM1162,188h2V200h-2ZM1165,162h2V189h-2ZM1169,145h2V164h-2ZM1172,143h2V154h-2ZM1182,143h2V160h-2ZM1189,149h2V156h-2ZM1192,145h2V157h-2ZM1199,150h2V158h-2ZM1209,139h2V179h-2ZM1213,136h2V145h-2ZM1220,145h2V149h-2ZM1223,123h2V149h-2ZM1230,125h2V128h-2ZM1233,100h2V126h-2ZM1243,103h2V116h-2ZM1254,108h2V116h-2ZM1257,104h2V109h-2ZM1264,102h2V107h-2ZM1271,102h2V105h-2Z" fill="#26a69a"/><path d="M13,205h2V217h-2ZM23,206h2V209h-2ZM26,208h2V215h-2ZM70,112h2V155h-2ZM77,130h2V155h-2ZM81,147h2V178h-2ZM84,177h2V179h-2ZM94,135h2V143h-2ZM98,144h2V153h-2ZM104,142h2V172h-2ZM108,170h2V173h-2ZM111,168h2V195h-2ZM118,175h2V275h-2ZM121,277h2V316h-2ZM128,294h2V306h-2ZM145,252h2V271h-2ZM149,263h2V300h-2ZM152,299h2V321h-2ZM159,309h2V312h-2ZM162,314h2V318h-2ZM166,313h2V328h-2ZM169,328h2V381h-2ZM172,381h2V400h-2ZM183,348h2V362h-2ZM189,355h2V357h-2ZM196,330h2V376h-2ZM200,367h2V380h-2ZM206,331h2V361h-2ZM213,341h2V450h-2ZM220,435h2V437h-2ZM237,397h2V424h-2ZM240,423h2V463h-2ZM244,462h2V469h-2ZM257,417h2V444h-2ZM261,443h2V448h-2ZM271,436h2V499h-2ZM274,498h2V529h-2ZM281,513h2V522h-2ZM288,507h2V517h-2ZM298,471h2V481h-2ZM302,473h2V493h-2ZM308,478h2V494h-2ZM315,476h2V483h-2ZM319,476h2V510h-2ZM322,504h2V511h-2ZM332,432h2V463h-2ZM342,454h2V458h-2ZM356,403h2V407h-2ZM370,386h2V393h-2ZM373,389h2V393h-2ZM380,357h2V369h-2ZM383,364h2V365h-2ZM393,354h2V370h-2ZM407,343h2V366h-2ZM410,348h2V388h-2ZM414,385h2V422h-2ZM421,384h2V418h-2ZM427,413h2V453h-2ZM431,434h2V460h-2ZM438,436h2V463h-2ZM441,458h2V468h-2ZM444,468h2V471h-2ZM451,454h2V468h-2ZM458,428h2V432h-2ZM465,412h2V438h-2ZM468,436h2V451h-2ZM472,451h2V460h-2ZM489,405h2V425h-2ZM492,418h2V428h-2ZM502,398h2V406h-2ZM509,394h2V402h-2ZM512,396h2V408h-2ZM519,401h2V412h-2ZM523,408h2V412h-2ZM536,341h2V358h-2ZM540,357h2V395h-2ZM543,394h2V402h-2ZM557,383h2V400h-2ZM580,319h2V334h-2ZM587,315h2V322h-2ZM601,280h2V286h-2ZM604,286h2V297h-2ZM608,297h2V305h-2ZM611,304h2V314h-2ZM618,292h2V300h-2ZM628,289h2V313h-2ZM642,290h2V292h-2ZM655,257h2V269h-2ZM669,227h2V231h-2ZM682,206h2V215h-2ZM689,207h2V215h-2ZM696,210h2V219h-2ZM699,217h2V254h-2ZM703,253h2V268h-2ZM706,268h2V288h-2ZM710,286h2V322h-2ZM713,320h2V328h-2ZM720,318h2V330h-2ZM737,261h2V266h-2ZM740,260h2V275h-2ZM744,270h2V290h-2ZM747,288h2V304h-2ZM764,232h2V248h-2ZM767,239h2V263h-2ZM798,179h2V188h-2ZM801,187h2V194h-2ZM808,177h2V187h-2ZM812,186h2V200h-2ZM825,174h2V186h-2ZM832,180h2V192h-2ZM846,153h2V164h-2ZM849,155h2V161h-2ZM856,152h2V174h-2ZM873,152h2V156h-2ZM883,145h2V156h-2ZM900,122h2V127h-2ZM910,117h2V131h-2ZM914,126h2V134h-2ZM917,131h2V141h-2ZM924,130h2V140h-2ZM937,118h2V122h-2ZM948,115h2V121h-2ZM951,117h2V118h-2ZM958,116h2V120h-2ZM971,107h2V117h-2ZM975,120h2V128h-2ZM982,86h2V101h-2ZM985,98h2V107h-2ZM988,104h2V126h-2ZM1012,83h2V110h-2ZM1019,89h2V102h-2ZM1022,101h2V124h-2ZM1026,114h2V141h-2ZM1039,120h2V124h-2ZM1043,120h2V139h-2ZM1046,134h2V159h-2ZM1050,150h2V166h-2ZM1056,142h2V165h-2ZM1063,162h2V168h-2ZM1070,160h2V218h-2ZM1080,180h2V194h-2ZM1084,193h2V238h-2ZM1087,240h2V258h-2ZM1101,223h2V228h-2ZM1104,227h2V254h-2ZM1111,248h2V251h-2ZM1118,249h2V262h-2ZM1121,259h2V273h-2ZM1124,261h2V276h-2ZM1141,208h2V222h-2ZM1145,206h2V212h-2ZM1155,188h2V200h-2ZM1158,191h2V200h-2ZM1175,143h2V148h-2ZM1179,143h2V148h-2ZM1186,142h2V156h-2ZM1196,145h2V156h-2ZM1203,155h2V169h-2ZM1206,164h2V179h-2ZM1216,134h2V147h-2ZM1226,121h2V130h-2ZM1237,100h2V105h-2ZM1240,104h2V116h-2ZM1247,111h2V113h-2ZM1250,107h2V117h-2ZM1260,101h2V108h-2ZM1267,101h2V112h-2ZM1274,102h2V114h-2Z" fill="#ef5350"/><line x1="264.4" y1="545.9" x2="1285.6" y2="237.4" stroke="#1a47d8" stroke-width="3.6" stroke-linecap="round"/><rect x="669.5" y="201.5" width="701.5" height="3.0999999999999943" rx="1.5" fill="#787b86" fill-opacity="0.75" stroke="#b8bac2" stroke-width="1"/><line x1="671.0" y1="201.5" x2="1367" y2="201.5" stroke="#ffffff" stroke-width="1.2"/><line x1="671.0" y1="204.6" x2="1367" y2="204.6" stroke="#7d808a" stroke-width="1.2"/><rect x="584.5" y="273.5" width="786.5" height="4.0" rx="1.5" fill="#787b86" fill-opacity="0.7" stroke="#b8bac2" stroke-width="1"/><line x1="586.0" y1="273.5" x2="1367" y2="273.5" stroke="#ffffff" stroke-width="1.2"/><line x1="586.0" y1="277.5" x2="1367" y2="277.5" stroke="#7d808a" stroke-width="1.2"/><rect x="567.5" y="314.3" width="803.5" height="4.199999999999989" rx="1.5" fill="#787b86" fill-opacity="0.75" stroke="#b8bac2" stroke-width="1"/><line x1="569.0" y1="314.3" x2="1367" y2="314.3" stroke="#ffffff" stroke-width="1.2"/><line x1="569.0" y1="318.5" x2="1367" y2="318.5" stroke="#7d808a" stroke-width="1.2"/><rect x="945.5" y="313.4" width="425.5" height="4.900000000000034" rx="1.5" fill="#787b86" fill-opacity="0.75" stroke="#d0d2d8" stroke-width="1"/><line x1="947.0" y1="313.4" x2="1367" y2="313.4" stroke="#ffffff" stroke-width="1.2"/><line x1="947.0" y1="318.3" x2="1367" y2="318.3" stroke="#7d808a" stroke-width="1.2"/><rect x="81.5" y="336.3" width="1289.5" height="4.300000000000011" rx="1.5" fill="#4e515c" fill-opacity="1" stroke="#6a6d78" stroke-width="1"/><line x1="83.0" y1="336.3" x2="1367" y2="336.3" stroke="#5a5d68" stroke-width="1.2"/><line x1="83.0" y1="340.6" x2="1367" y2="340.6" stroke="#ffffff" stroke-width="1.2"/><line x1="37" y1="79.5" x2="1367" y2="79.5" stroke="#ffffff" stroke-width="2" stroke-linecap="round"/><line x1="1227" y1="99.4" x2="1367" y2="99.4" stroke="#ffffff" stroke-width="1.8" stroke-linecap="round"/><line x1="815" y1="157.5" x2="1367" y2="157.5" stroke="#ffffff" stroke-width="2" stroke-linecap="round"/><line x1="988.5" y1="72.2" x2="1367" y2="199.7" stroke="#ba48d2" stroke-width="2.6" stroke-linecap="round"/><line x1="437.6" y1="494.4" x2="1315.9" y2="26.2" stroke="#4caf50" stroke-width="2.6" stroke-linecap="round"/><line x1="1030" y1="118.9" x2="1323" y2="118.9" stroke="#ffffff" stroke-width="2" stroke-linecap="round"/><line x1="84" y1="132.7" x2="1367" y2="132.7" stroke="#ffffff" stroke-width="2.8" stroke-linecap="round"/><line x1="1193" y1="183" x2="1367" y2="183" stroke="#ffffff" stroke-width="2" stroke-linecap="round"/><g font-family="Liberation Sans, sans-serif" font-weight="700" font-size="14" fill="#ffffff"><text x="67" y="71.6" textLength="121.9" lengthAdjust="spacingAndGlyphs">October 2022 high</text><text x="954.5" y="70.8" textLength="142.3" lengthAdjust="spacingAndGlyphs">November 2023 highs</text><text x="365.7" y="312.5" textLength="108.5" lengthAdjust="spacingAndGlyphs">March 2023 high</text><text x="423.8" y="512.8" textLength="103.8" lengthAdjust="spacingAndGlyphs">March 2023 low</text><text x="240.3" y="568.6" textLength="116.9" lengthAdjust="spacingAndGlyphs">January 2023 low</text></g></g><g clip-path="url(#cr)"><path d="M46.0,606.5 L47.2,604.2 L50.6,603.0 L54.0,595.5 L57.4,594.3 L60.8,593.5 L64.2,590.6 L67.6,589.7 L69.3,606.5Z" fill="#4caf50" fill-opacity="0.18"/><path d="M594.5,606.5 L594.6,606.5 L598.0,604.3 L600.7,606.5Z" fill="#4caf50" fill-opacity="0.18"/><path d="M662.4,606.5 L662.6,606.1 L666.0,603.1 L668.5,606.5Z" fill="#4caf50" fill-opacity="0.18"/><path d="M670.2,606.5 L672.8,603.2 L676.2,601.7 L679.6,599.8 L682.6,606.5Z" fill="#4caf50" fill-opacity="0.18"/><path d="M684.0,606.5 L686.4,604.6 L687.3,606.5Z" fill="#4caf50" fill-opacity="0.18"/><line x1="9" y1="606.5" x2="1367" y2="606.5" stroke="#9598a1" stroke-width="1" stroke-dasharray="3 3.3" stroke-opacity="0.65"/><line x1="9" y1="639.4" x2="1367" y2="639.4" stroke="#9598a1" stroke-width="1" stroke-dasharray="3 3.3" stroke-opacity="0.65"/><line x1="9" y1="672.3" x2="1367" y2="672.3" stroke="#9598a1" stroke-width="1" stroke-dasharray="3 3.3" stroke-opacity="0.65"/><path d="M9.8,613.2 L13.2,619.0 L16.6,617.3 L20.0,615.8 L23.4,617.4 L26.8,620.8 L30.2,617.0 L33.6,615.3 L37.0,613.5 L40.4,611.4 L43.8,610.7 L47.2,604.2 L50.6,603.0 L54.0,595.5 L57.4,594.3 L60.8,593.5 L64.2,590.6 L67.6,589.7 L71.0,621.8 L74.4,613.6 L77.8,626.6 L81.2,637.0 L84.6,637.5 L88.0,628.8 L91.4,621.3 L94.8,625.2 L98.2,630.1 L101.6,626.7 L105.0,639.5 L108.4,639.9 L111.8,648.7 L115.2,640.0 L118.6,667.4 L122.0,674.2 L125.4,666.3 L128.8,668.4 L132.2,661.9 L135.6,661.9 L139.0,660.4 L142.4,648.9 L145.8,653.7 L149.2,660.5 L152.6,664.9 L156.0,657.1 L159.4,659.9 L162.8,661.3 L166.2,663.6 L169.6,673.9 L173.0,677.0 L176.4,659.5 L179.8,657.8 L183.2,660.9 L186.6,658.3 L190.0,658.8 L193.4,652.1 L196.8,661.1 L200.2,662.0 L203.6,645.4 L207.0,652.4 L210.4,648.7 L213.8,668.4 L217.2,663.8 L220.6,664.2 L224.0,659.6 L227.4,660.6 L230.8,656.5 L234.2,650.1 L237.6,656.5 L241.0,664.4 L244.4,665.5 L247.8,663.6 L251.2,651.6 L254.6,647.4 L258.0,654.1 L261.4,655.1 L264.8,652.2 L268.2,650.3 L271.6,665.4 L275.0,670.7 L278.4,664.5 L281.8,666.4 L285.2,660.8 L288.6,663.0 L292.0,647.4 L295.4,647.0 L298.8,649.8 L302.2,653.0 L305.6,648.2 L309.0,652.3 L312.4,646.6 L315.8,647.9 L319.2,655.9 L322.6,656.2 L326.0,637.1 L329.4,628.9 L332.8,639.0 L336.2,636.3 L339.6,636.0 L343.0,637.8 L346.4,631.2 L349.8,626.2 L353.2,619.7 L356.6,623.2 L360.0,620.0 L363.4,621.9 L366.8,617.9 L370.2,621.0 L373.6,621.0 L377.0,610.1 L380.4,616.6 L383.8,615.3 L387.2,613.8 L390.6,611.6 L394.0,621.7 L397.4,619.6 L400.8,613.1 L404.2,612.1 L407.6,626.3 L411.0,637.1 L414.4,650.3 L417.8,641.2 L421.2,647.6 L424.6,646.3 L428.0,658.4 L431.4,660.3 L434.8,649.8 L438.2,657.7 L441.6,659.1 L445.0,659.9 L448.4,652.1 L451.8,656.5 L455.2,640.5 L458.6,641.6 L462.0,638.9 L465.4,643.9 L468.8,648.6 L472.2,651.8 L475.6,647.1 L479.0,643.4 L482.4,631.9 L485.8,631.1 L489.2,637.2 L492.6,638.5 L496.0,630.8 L499.4,625.6 L502.8,630.4 L506.2,621.9 L509.6,631.1 L513.0,634.0 L516.4,627.9 L519.8,637.1 L523.2,637.1 L526.6,632.6 L530.0,617.8 L533.4,611.4 L536.8,620.8 L540.2,636.6 L543.6,639.2 L547.0,634.4 L550.4,633.0 L553.8,632.2 L557.2,639.8 L560.6,637.6 L564.0,628.4 L567.4,626.2 L570.8,624.3 L574.2,617.2 L577.6,610.4 L581.0,618.9 L584.4,614.2 L587.8,616.0 L591.2,610.4 L594.6,606.5 L598.0,604.3 L601.4,607.0 L604.8,614.3 L608.2,619.4 L611.6,624.9 L615.0,616.4 L618.4,621.4 L621.8,618.3 L625.2,617.1 L628.6,631.8 L632.0,626.1 L635.4,625.7 L638.8,621.0 L642.2,623.6 L645.6,621.4 L649.0,610.0 L652.4,609.7 L655.8,618.4 L659.2,614.0 L662.6,606.1 L666.0,603.1 L669.4,607.6 L672.8,603.2 L676.2,601.7 L679.6,599.8 L683.0,607.4 L686.4,604.6 L689.8,611.2 L693.2,608.8 L696.6,617.1 L700.0,639.4 L703.4,646.3 L706.8,654.9 L710.2,666.2 L713.6,668.0 L717.0,663.2 L720.4,666.4 L723.8,654.9 L727.2,645.8 L730.6,645.3 L734.0,630.7 L737.4,634.5 L740.8,638.7 L744.2,645.2 L747.6,650.8 L751.0,635.7 L754.4,628.4 L757.8,621.2 L761.2,621.7 L764.6,630.8 L768.0,637.3 L771.4,631.2 L774.8,624.6 L778.2,623.6 L781.6,617.7 L785.0,617.1 L788.4,613.0 L791.8,611.1 L795.2,608.4 L798.6,615.5 L802.0,619.3 L805.4,614.2 L808.8,618.7 L812.2,626.7 L815.6,621.4 L819.0,617.1 L822.4,616.3 L825.8,624.4 L829.2,622.2 L832.6,629.4 L836.0,623.3 L839.4,621.5 L842.8,612.5 L846.2,620.1 L849.6,618.9 L853.0,615.1 L856.4,629.9 L859.8,625.2 L863.2,622.6 L866.6,622.6 L870.0,618.8 L873.4,623.4 L876.8,620.8 L880.2,616.4 L883.6,627.4 L887.0,619.8 L890.4,616.6 L893.8,614.8 L897.2,609.6 L900.6,617.2 L904.0,614.8 L907.4,612.1 L910.8,624.6 L914.2,627.0 L917.6,632.4 L921.0,624.7 L924.4,633.6 L927.8,630.6 L931.2,625.3 L934.6,620.9 L938.0,624.3 L941.4,622.5 L944.8,621.3 L948.2,625.2 L951.6,623.1 L955.0,620.4 L958.4,626.8 L961.8,623.0 L965.2,618.1 L968.6,617.4 L972.0,628.8 L975.4,639.4 L978.8,613.0 L982.2,625.0 L985.6,629.4 L989.0,641.6 L992.4,633.6 L995.8,630.3 L999.2,625.7 L1002.6,622.2 L1006.0,620.2 L1009.4,618.2 L1012.8,638.1 L1016.2,627.2 L1019.6,635.0 L1023.0,646.3 L1026.4,653.6 L1029.8,651.3 L1033.2,642.5 L1036.6,641.9 L1040.0,644.0 L1043.4,651.5 L1046.8,659.9 L1050.2,662.6 L1053.6,647.0 L1057.0,656.9 L1060.4,653.6 L1063.8,657.1 L1067.2,652.4 L1070.6,670.7 L1074.0,663.9 L1077.4,652.2 L1080.8,656.5 L1084.2,667.8 L1087.6,671.9 L1091.0,669.6 L1094.4,663.5 L1097.8,655.6 L1101.2,657.3 L1104.6,664.3 L1108.0,661.5 L1111.4,662.3 L1114.8,660.8 L1118.2,665.0 L1121.6,668.1 L1125.0,668.9 L1128.4,668.9 L1131.8,654.6 L1135.2,640.9 L1138.6,633.5 L1142.0,640.4 L1145.4,636.2 L1148.8,635.0 L1152.2,626.6 L1155.6,632.5 L1159.0,632.5 L1162.4,627.4 L1165.8,617.8 L1169.2,612.4 L1172.6,611.8 L1176.0,615.0 L1179.4,615.0 L1182.8,613.1 L1186.2,622.2 L1189.6,619.2 L1193.0,617.5 L1196.4,625.4 L1199.8,622.5 L1203.2,635.0 L1206.6,640.8 L1210.0,622.1 L1213.4,620.9 L1216.8,627.5 L1220.2,626.6 L1223.6,617.5 L1227.0,622.0 L1230.4,619.9 L1233.8,610.6 L1237.2,614.1 L1240.6,621.4 L1244.0,616.3 L1247.4,622.8 L1250.8,625.4 L1254.2,621.3 L1257.6,619.6 L1261.0,622.5 L1264.4,619.6 L1267.8,627.2 L1271.2,622.0 L1274.6,630.7" fill="none" stroke="#7e57c2" stroke-width="1.1"/><path d="M9.2,611.9 C10.2,612.5 13.0,614.3 15.1,615.2 C17.2,616.1 19.8,616.8 22.0,617.3 C24.2,617.8 26.3,618.1 28.6,618.3 C30.9,618.5 33.5,618.4 36.0,618.4 C38.5,618.4 41.5,618.7 43.7,618.3 C46.0,617.9 47.8,617.0 49.5,616.0 C51.2,615.0 52.6,613.3 54.0,612.4 C55.3,611.6 56.2,611.6 57.4,611.1 C58.5,610.6 59.6,609.9 60.8,609.3 C61.9,608.6 63.0,608.0 64.2,607.4 C65.3,606.7 66.4,605.8 67.6,605.5 C68.7,605.2 69.8,605.8 71.0,605.8 C72.1,605.8 73.2,605.3 74.4,605.3 C75.5,605.3 76.6,605.6 77.8,606.0 C78.9,606.3 80.0,607.0 81.2,607.5 C82.3,608.1 83.4,608.7 84.6,609.2 C85.7,609.7 86.8,610.1 88.0,610.5 C89.1,610.8 90.2,610.9 91.4,611.2 C92.5,611.6 93.6,612.2 94.8,612.7 C95.9,613.3 97.0,614.0 98.2,614.7 C99.3,615.4 100.4,616.0 101.6,616.9 C102.7,617.8 103.8,619.0 105.0,620.1 C106.1,621.2 107.2,622.2 108.4,623.4 C109.5,624.7 110.6,626.3 111.8,627.6 C112.9,628.9 114.0,630.0 115.2,631.2 C116.3,632.3 117.4,633.2 118.6,634.4 C119.7,635.7 120.8,637.6 122.0,638.8 C123.1,640.0 124.2,640.8 125.4,641.6 C126.5,642.5 127.6,643.2 128.8,643.9 C129.9,644.5 131.0,644.9 132.2,645.6 C133.3,646.3 134.4,647.1 135.6,648.0 C136.7,648.8 137.8,650.0 139.0,650.8 C140.1,651.5 141.2,651.9 142.4,652.5 C143.5,653.0 144.6,653.5 145.8,654.1 C146.9,654.8 148.0,655.9 149.2,656.6 C150.3,657.3 151.4,657.9 152.6,658.4 C153.7,658.9 154.8,659.3 156.0,659.6 C157.1,659.9 158.2,660.0 159.4,660.4 C160.5,660.8 161.6,661.7 162.8,661.9 C163.9,662.1 165.0,661.7 166.2,661.7 C167.3,661.6 168.4,661.5 169.6,661.6 C170.7,661.8 171.8,662.4 173.0,662.4 C174.1,662.4 175.2,661.9 176.4,661.8 C177.5,661.6 178.6,661.5 179.8,661.5 C180.9,661.4 182.0,661.4 183.2,661.4 C184.3,661.3 185.4,661.1 186.6,661.2 C187.7,661.3 188.8,661.8 190.0,661.9 C191.1,662.0 192.2,661.8 193.4,661.8 C194.5,661.8 195.6,661.9 196.8,661.9 C197.9,661.9 199.0,661.8 200.2,661.7 C201.3,661.5 202.4,661.1 203.6,660.8 C204.7,660.6 205.8,660.5 207.0,660.3 C208.1,660.1 209.2,659.5 210.4,659.4 C211.5,659.3 212.6,659.8 213.8,659.7 C214.9,659.7 216.0,659.3 217.2,659.0 C218.3,658.8 219.4,658.3 220.6,658.1 C221.7,658.0 222.8,658.1 224.0,658.1 C225.1,658.1 226.2,658.3 227.4,658.3 C228.5,658.3 229.6,658.1 230.8,658.0 C231.9,657.8 233.0,657.5 234.2,657.4 C235.3,657.3 236.4,657.1 237.6,657.2 C238.7,657.4 239.8,657.9 241.0,658.1 C242.1,658.3 243.2,658.4 244.4,658.4 C245.5,658.5 246.6,658.4 247.8,658.5 C248.9,658.6 250.0,659.0 251.2,659.0 C252.3,659.0 253.4,658.6 254.6,658.6 C255.7,658.6 256.8,659.1 258.0,659.0 C259.1,658.9 260.2,658.4 261.4,658.1 C262.5,657.8 263.6,657.5 264.8,657.2 C265.9,656.9 267.0,656.4 268.2,656.3 C269.3,656.2 270.4,656.5 271.6,656.7 C272.7,656.9 273.8,657.2 275.0,657.4 C276.1,657.6 277.2,657.7 278.4,658.0 C279.5,658.3 280.6,658.9 281.8,659.1 C282.9,659.4 284.0,659.4 285.2,659.4 C286.3,659.5 287.4,659.6 288.6,659.3 C289.7,659.1 290.8,658.5 292.0,658.0 C293.1,657.6 294.2,657.1 295.4,656.9 C296.5,656.6 297.6,656.7 298.8,656.7 C299.9,656.8 301.0,657.1 302.2,657.1 C303.3,657.1 304.4,656.8 305.6,656.7 C306.7,656.6 307.8,656.6 309.0,656.5 C310.1,656.4 311.2,656.2 312.4,656.1 C313.5,656.0 314.6,656.1 315.8,655.9 C316.9,655.8 318.0,655.5 319.2,655.2 C320.3,655.0 321.4,654.7 322.6,654.2 C323.7,653.7 324.8,653.0 326.0,652.2 C327.1,651.5 328.2,650.3 329.4,649.6 C330.5,648.9 331.6,648.6 332.8,648.0 C333.9,647.4 335.0,646.6 336.2,646.1 C337.3,645.7 338.4,645.5 339.6,645.3 C340.7,645.1 341.8,645.0 343.0,644.6 C344.1,644.3 345.2,643.8 346.4,643.3 C347.5,642.8 348.6,642.1 349.8,641.4 C350.9,640.7 352.0,640.0 353.2,639.4 C354.3,638.7 355.4,637.9 356.6,637.3 C357.7,636.6 358.8,636.0 360.0,635.4 C361.1,634.8 362.2,634.3 363.4,633.5 C364.5,632.8 365.6,631.7 366.8,630.8 C367.9,629.9 369.0,628.9 370.2,628.3 C371.3,627.7 372.4,627.6 373.6,627.2 C374.7,626.7 375.8,626.3 377.0,625.8 C378.1,625.3 379.2,624.7 380.4,624.2 C381.5,623.7 382.6,623.2 383.8,622.7 C384.9,622.2 386.0,621.7 387.2,621.1 C388.3,620.5 389.4,619.7 390.6,619.2 C391.7,618.8 392.8,618.8 394.0,618.6 C395.1,618.4 396.2,618.3 397.4,618.1 C398.5,617.9 399.6,617.8 400.8,617.6 C401.9,617.4 403.0,616.9 404.2,616.8 C405.3,616.8 406.4,617.0 407.6,617.3 C408.7,617.5 409.8,617.8 411.0,618.4 C412.1,618.9 413.2,620.1 414.4,620.7 C415.5,621.3 416.6,621.6 417.8,622.1 C418.9,622.7 420.0,623.3 421.2,624.0 C422.3,624.8 423.4,625.7 424.6,626.6 C425.7,627.5 426.8,628.6 428.0,629.6 C429.1,630.6 430.2,631.9 431.4,632.8 C432.5,633.8 433.6,634.4 434.8,635.4 C435.9,636.4 437.0,637.7 438.2,638.7 C439.3,639.7 440.4,640.4 441.6,641.4 C442.7,642.3 443.8,643.3 445.0,644.2 C446.1,645.2 447.2,646.0 448.4,647.0 C449.5,648.0 450.6,649.5 451.8,650.2 C452.9,650.9 454.0,651.0 455.2,651.2 C456.3,651.4 457.4,651.6 458.6,651.5 C459.7,651.4 460.8,650.8 462.0,650.7 C463.1,650.6 464.2,650.9 465.4,650.9 C466.5,650.9 467.6,650.9 468.8,651.0 C469.9,651.0 471.0,651.4 472.2,651.4 C473.3,651.3 474.4,650.9 475.6,650.5 C476.7,650.2 477.8,649.8 479.0,649.3 C480.1,648.9 481.2,648.6 482.4,648.1 C483.5,647.5 484.6,646.7 485.8,646.2 C486.9,645.6 488.0,645.1 489.2,644.6 C490.3,644.1 491.4,643.6 492.6,643.1 C493.7,642.6 494.8,642.2 496.0,641.5 C497.1,640.9 498.2,639.8 499.4,639.3 C500.5,638.9 501.6,639.0 502.8,638.6 C503.9,638.3 505.0,637.5 506.2,637.2 C507.3,636.9 508.4,636.9 509.6,636.7 C510.7,636.5 511.8,636.3 513.0,636.0 C514.1,635.6 515.2,634.9 516.4,634.5 C517.5,634.1 518.6,633.7 519.8,633.4 C520.9,633.1 522.0,633.0 523.2,632.7 C524.3,632.5 525.4,632.2 526.6,631.9 C527.7,631.7 528.8,631.3 530.0,630.9 C531.1,630.5 532.2,630.0 533.4,629.5 C534.5,629.1 535.6,628.6 536.8,628.4 C537.9,628.1 539.0,628.2 540.2,628.2 C541.3,628.3 542.4,628.6 543.6,628.8 C544.7,629.0 545.8,629.3 547.0,629.5 C548.1,629.6 549.2,629.5 550.4,629.6 C551.5,629.8 552.6,630.2 553.8,630.4 C554.9,630.6 556.0,630.8 557.2,631.0 C558.3,631.1 559.4,631.2 560.6,631.2 C561.7,631.3 562.8,631.4 564.0,631.3 C565.1,631.2 566.2,630.8 567.4,630.5 C568.5,630.2 569.6,629.9 570.8,629.6 C571.9,629.3 573.0,628.8 574.2,628.5 C575.3,628.2 576.4,628.0 577.6,628.0 C578.7,628.0 579.8,628.5 581.0,628.5 C582.1,628.5 583.2,628.4 584.4,628.0 C585.5,627.7 586.6,627.1 587.8,626.6 C588.9,626.0 590.0,625.2 591.2,624.5 C592.3,623.8 593.4,623.2 594.6,622.5 C595.7,621.8 596.8,621.1 598.0,620.5 C599.1,619.8 600.2,619.3 601.4,618.7 C602.5,618.1 603.6,617.4 604.8,616.8 C605.9,616.3 607.0,615.8 608.2,615.5 C609.3,615.3 610.4,615.4 611.6,615.3 C612.7,615.1 613.8,614.7 615.0,614.6 C616.1,614.4 617.2,614.4 618.4,614.4 C619.5,614.4 620.6,614.4 621.8,614.5 C622.9,614.5 624.0,614.7 625.2,614.9 C626.3,615.2 627.4,615.6 628.6,615.8 C629.7,616.1 630.8,616.4 632.0,616.7 C633.1,617.0 634.2,617.2 635.4,617.4 C636.5,617.6 637.6,617.8 638.8,618.2 C639.9,618.5 641.0,619.0 642.2,619.4 C643.3,619.8 644.4,620.4 645.6,620.6 C646.7,620.8 647.8,620.8 649.0,620.8 C650.1,620.8 651.2,620.5 652.4,620.5 C653.5,620.4 654.6,620.6 655.8,620.4 C656.9,620.3 658.0,619.9 659.2,619.6 C660.3,619.4 661.4,619.2 662.6,618.9 C663.7,618.6 664.8,617.9 666.0,617.6 C667.1,617.2 668.2,617.1 669.4,616.8 C670.5,616.5 671.6,616.4 672.8,615.8 C673.9,615.3 675.0,614.4 676.2,613.7 C677.3,613.0 678.4,612.3 679.6,611.8 C680.7,611.3 681.8,610.9 683.0,610.5 C684.1,610.1 685.2,609.7 686.4,609.3 C687.5,609.0 688.6,608.7 689.8,608.4 C690.9,608.1 692.0,607.6 693.2,607.5 C694.3,607.5 695.4,607.6 696.6,608.0 C697.7,608.5 698.8,609.5 700.0,610.2 C701.1,610.9 702.2,611.3 703.4,612.2 C704.5,613.0 705.6,613.9 706.8,615.1 C707.9,616.3 709.0,617.9 710.2,619.4 C711.3,620.9 712.4,622.6 713.6,624.0 C714.7,625.4 715.8,626.6 717.0,628.0 C718.1,629.4 719.2,631.1 720.4,632.5 C721.5,633.9 722.6,635.1 723.8,636.3 C724.9,637.5 726.0,638.6 727.2,639.6 C728.3,640.6 729.4,641.5 730.6,642.3 C731.7,643.1 732.8,643.6 734.0,644.2 C735.1,644.8 736.2,645.2 737.4,645.8 C738.5,646.5 739.6,647.3 740.8,648.0 C741.9,648.6 743.0,649.5 744.2,650.0 C745.3,650.4 746.4,650.8 747.6,650.8 C748.7,650.8 749.8,650.5 751.0,650.0 C752.1,649.6 753.2,649.0 754.4,648.1 C755.5,647.3 756.6,646.0 757.8,644.9 C758.9,643.8 760.0,642.5 761.2,641.6 C762.3,640.7 763.4,640.0 764.6,639.3 C765.7,638.6 766.8,637.8 768.0,637.2 C769.1,636.6 770.2,636.1 771.4,635.5 C772.5,635.0 773.6,634.5 774.8,634.0 C775.9,633.5 777.0,632.9 778.2,632.5 C779.3,632.0 780.4,631.9 781.6,631.5 C782.7,631.2 783.8,630.8 785.0,630.3 C786.1,629.8 787.2,629.2 788.4,628.5 C789.5,627.8 790.6,626.9 791.8,626.0 C792.9,625.1 794.0,623.7 795.2,623.0 C796.3,622.3 797.4,621.9 798.6,621.6 C799.7,621.2 800.8,621.1 802.0,620.9 C803.1,620.7 804.2,620.5 805.4,620.4 C806.5,620.3 807.6,620.3 808.8,620.2 C809.9,620.1 811.0,620.1 812.2,619.9 C813.3,619.7 814.4,619.1 815.6,618.8 C816.7,618.4 817.8,618.0 819.0,617.8 C820.1,617.5 821.2,617.2 822.4,617.2 C823.5,617.1 824.6,617.2 825.8,617.2 C826.9,617.3 828.0,617.3 829.2,617.5 C830.3,617.7 831.4,618.1 832.6,618.4 C833.7,618.7 834.8,618.9 836.0,619.1 C837.1,619.4 838.2,619.7 839.4,619.9 C840.5,620.0 841.6,620.1 842.8,620.2 C843.9,620.3 845.0,620.4 846.2,620.5 C847.3,620.5 848.4,620.5 849.6,620.5 C850.7,620.5 851.8,620.4 853.0,620.5 C854.1,620.7 855.2,621.2 856.4,621.3 C857.5,621.4 858.6,621.2 859.8,621.2 C860.9,621.2 862.0,621.2 863.2,621.3 C864.3,621.4 865.4,621.6 866.6,621.7 C867.7,621.8 868.8,621.8 870.0,621.9 C871.1,621.9 872.2,621.8 873.4,621.8 C874.5,621.8 875.6,621.9 876.8,621.7 C877.9,621.5 879.0,620.9 880.2,620.8 C881.3,620.7 882.4,621.0 883.6,621.1 C884.7,621.1 885.8,620.9 887.0,620.9 C888.1,621.0 889.2,621.3 890.4,621.2 C891.5,621.2 892.6,621.0 893.8,620.9 C894.9,620.7 896.0,620.3 897.2,620.2 C898.3,620.1 899.4,620.5 900.6,620.3 C901.7,620.2 902.8,619.6 904.0,619.3 C905.1,618.9 906.2,618.5 907.4,618.3 C908.5,618.2 909.6,618.4 910.8,618.5 C911.9,618.6 913.0,618.6 914.2,618.8 C915.3,619.0 916.4,619.6 917.6,619.8 C918.7,619.9 919.8,619.7 921.0,619.9 C922.1,620.0 923.2,620.5 924.4,620.8 C925.5,621.1 926.6,621.6 927.8,621.8 C928.9,621.9 930.0,621.7 931.2,621.6 C932.3,621.6 933.4,621.6 934.6,621.7 C935.7,621.8 936.8,622.1 938.0,622.3 C939.1,622.5 940.2,622.6 941.4,622.8 C942.5,623.1 943.6,623.4 944.8,623.7 C945.9,623.9 947.0,624.1 948.2,624.2 C949.3,624.4 950.4,624.6 951.6,624.8 C952.7,625.0 953.8,625.3 955.0,625.4 C956.1,625.6 957.2,625.6 958.4,625.6 C959.5,625.6 960.6,625.5 961.8,625.3 C962.9,625.1 964.0,624.5 965.2,624.3 C966.3,624.0 967.4,623.9 968.6,623.8 C969.7,623.6 970.8,623.4 972.0,623.4 C973.1,623.5 974.2,624.1 975.4,624.0 C976.5,624.0 977.6,623.3 978.8,623.2 C979.9,623.1 981.0,623.4 982.2,623.5 C983.3,623.6 984.4,623.5 985.6,623.8 C986.7,624.1 987.8,624.8 989.0,625.2 C990.1,625.6 991.2,625.9 992.4,626.1 C993.5,626.3 994.6,626.3 995.8,626.4 C996.9,626.5 998.0,626.6 999.2,626.6 C1000.3,626.7 1001.4,626.8 1002.6,626.7 C1003.7,626.7 1004.8,626.4 1006.0,626.3 C1007.1,626.1 1008.2,625.7 1009.4,625.9 C1010.5,626.1 1011.6,627.0 1012.8,627.3 C1013.9,627.7 1015.0,627.9 1016.2,628.0 C1017.3,628.2 1018.4,628.3 1019.6,628.5 C1020.7,628.6 1021.8,628.4 1023.0,629.0 C1024.1,629.5 1025.2,631.1 1026.4,631.9 C1027.5,632.7 1028.6,633.3 1029.8,633.8 C1030.9,634.2 1032.0,634.5 1033.2,634.7 C1034.3,634.9 1035.4,634.6 1036.6,634.7 C1037.7,634.8 1038.8,635.1 1040.0,635.5 C1041.1,635.8 1042.2,636.3 1043.4,637.0 C1044.5,637.6 1045.6,638.5 1046.8,639.4 C1047.9,640.3 1049.0,641.5 1050.2,642.3 C1051.3,643.1 1052.4,643.4 1053.6,644.2 C1054.7,645.0 1055.8,646.3 1057.0,647.0 C1058.1,647.6 1059.2,647.6 1060.4,648.1 C1061.5,648.6 1062.6,649.7 1063.8,650.2 C1064.9,650.8 1066.0,651.0 1067.2,651.5 C1068.3,652.0 1069.4,652.8 1070.6,653.2 C1071.7,653.6 1072.8,653.8 1074.0,654.0 C1075.1,654.1 1076.2,653.8 1077.4,654.0 C1078.5,654.2 1079.6,654.5 1080.8,655.0 C1081.9,655.5 1083.0,656.2 1084.2,656.9 C1085.3,657.5 1086.4,658.3 1087.6,658.9 C1088.7,659.4 1089.8,659.9 1091.0,660.2 C1092.1,660.4 1093.2,660.5 1094.4,660.4 C1095.5,660.4 1096.6,659.9 1097.8,659.9 C1098.9,660.0 1100.0,660.4 1101.2,660.6 C1102.3,660.9 1103.4,661.0 1104.6,661.2 C1105.7,661.4 1106.8,661.6 1108.0,661.7 C1109.1,661.9 1110.2,661.9 1111.4,662.1 C1112.5,662.3 1113.6,662.7 1114.8,662.7 C1115.9,662.7 1117.0,662.3 1118.2,662.3 C1119.3,662.3 1120.4,662.3 1121.6,662.6 C1122.7,662.8 1123.8,663.4 1125.0,663.8 C1126.1,664.1 1127.2,664.7 1128.4,664.7 C1129.5,664.7 1130.6,664.3 1131.8,663.7 C1132.9,663.2 1134.0,662.3 1135.2,661.5 C1136.3,660.7 1137.4,659.6 1138.6,658.9 C1139.7,658.2 1140.8,657.8 1142.0,657.3 C1143.1,656.8 1144.2,656.4 1145.4,655.9 C1146.5,655.4 1147.6,655.0 1148.8,654.3 C1149.9,653.6 1151.0,652.4 1152.2,651.6 C1153.3,650.8 1154.4,650.2 1155.6,649.5 C1156.7,648.8 1157.8,648.2 1159.0,647.4 C1160.1,646.7 1161.2,646.0 1162.4,645.0 C1163.5,644.1 1164.6,642.9 1165.8,641.7 C1166.9,640.4 1168.0,639.0 1169.2,637.7 C1170.3,636.3 1171.4,634.9 1172.6,633.6 C1173.7,632.3 1174.8,630.9 1176.0,629.8 C1177.1,628.6 1178.2,627.7 1179.4,626.9 C1180.5,626.1 1181.6,625.4 1182.8,624.9 C1183.9,624.5 1185.0,624.5 1186.2,624.1 C1187.3,623.8 1188.4,623.1 1189.6,622.6 C1190.7,622.1 1191.8,621.6 1193.0,621.3 C1194.1,620.9 1195.2,620.8 1196.4,620.6 C1197.5,620.4 1198.6,620.3 1199.8,620.3 C1200.9,620.3 1202.0,620.4 1203.2,620.5 C1204.3,620.6 1205.4,621.0 1206.6,621.1 C1207.7,621.1 1208.8,620.7 1210.0,620.7 C1211.1,620.7 1212.2,620.7 1213.4,620.9 C1214.5,621.1 1215.6,621.6 1216.8,622.0 C1217.9,622.3 1219.0,622.8 1220.2,623.0 C1221.3,623.3 1222.4,623.1 1223.6,623.2 C1224.7,623.3 1225.8,623.6 1227.0,623.7 C1228.1,623.9 1229.2,624.3 1230.4,624.2 C1231.5,624.2 1232.6,623.6 1233.8,623.4 C1234.9,623.2 1236.0,623.0 1237.2,623.0 C1238.3,623.0 1239.4,623.4 1240.6,623.3 C1241.7,623.2 1242.8,622.8 1244.0,622.7 C1245.1,622.5 1246.2,622.8 1247.4,622.7 C1248.5,622.6 1249.6,622.3 1250.8,622.0 C1251.9,621.6 1253.0,620.9 1254.2,620.6 C1255.3,620.3 1256.4,620.4 1257.6,620.4 C1258.7,620.4 1259.8,620.6 1261.0,620.5 C1262.1,620.5 1263.2,620.1 1264.4,620.0 C1265.5,619.9 1266.6,620.0 1267.8,620.0 C1268.9,620.1 1270.0,620.2 1271.2,620.3 C1272.3,620.5 1274.0,620.9 1274.6,621.0" fill="none" stroke="#eed33b" stroke-width="1.4"/></g><g font-family="Liberation Sans, sans-serif" font-size="10" fill="#b2b5be" stroke="#b2b5be" stroke-width="0.25" text-anchor="end"><text x="1411.5" y="49.0">154.000</text><text x="1411.5" y="152.6">148.000</text><text x="1411.5" y="187.8">146.000</text><text x="1411.5" y="222.9">144.000</text><text x="1411.5" y="258.9">142.000</text><text x="1411.5" y="295.9">140.000</text><text x="1411.5" y="333.9">138.000</text><text x="1411.5" y="371.4">136.000</text><text x="1411.5" y="409.0">134.000</text><text x="1411.5" y="438.2">132.500</text><text x="1411.5" y="467.9">131.000</text><text x="1411.5" y="498.1">129.500</text><text x="1411.5" y="528.3">128.000</text><text x="1411.5" y="556.6">126.600</text><text x="1411.5" y="583.3">125.300</text><text x="1400" y="593.6">80.00</text><text x="1400" y="626.3">60.00</text><text x="1400" y="659.9">40.00</text></g><rect x="1367" y="71.7" width="49.6" height="15.6" rx="2" fill="#ffffff"/><text x="1411.5" y="83.1" font-family="Liberation Sans, sans-serif" font-size="10" fill="#131722" stroke="#131722" stroke-width="0.25" text-anchor="end">152.001</text><rect x="1367" y="91.5" width="49.6" height="15.6" rx="2" fill="#ffffff"/><text x="1411.5" y="102.9" font-family="Liberation Sans, sans-serif" font-size="10" fill="#131722" stroke="#131722" stroke-width="0.25" text-anchor="end">150.850</text><rect x="1367" y="121.0" width="49.6" height="15.6" rx="2" fill="#ffffff"/><text x="1411.5" y="132.4" font-family="Liberation Sans, sans-serif" font-size="10" fill="#131722" stroke="#131722" stroke-width="0.25" text-anchor="end">149.704</text><rect x="1322.8" y="106.3" width="44.5" height="15.6" rx="2" fill="#ef5350"/><text x="1345" y="117.5" font-family="Liberation Sans, sans-serif" font-size="10" fill="#ffffff" stroke="#ffffff" stroke-width="0.25" text-anchor="middle" textLength="34.5" lengthAdjust="spacingAndGlyphs">USDJPY</text><rect x="1367" y="106.1" width="49.6" height="15.6" rx="2" fill="#ef5350"/><text x="1411.5" y="117.5" font-family="Liberation Sans, sans-serif" font-size="10" fill="#ffffff" stroke="#ffffff" stroke-width="0.25" text-anchor="end">149.996</text><rect x="1366" y="106.3" width="3" height="15.6" fill="#ef5350"/><g font-family="Liberation Sans, sans-serif" font-size="10.5" fill="#b2b5be" stroke="#b2b5be" stroke-width="0.25" text-anchor="middle"><text x="23.5" y="700">Oct</text><text x="95" y="700">Nov</text><text x="169.6" y="700">Dec</text><text x="244.2" y="700">2023</text><text x="319" y="700">Feb</text><text x="390.3" y="700">2</text><text x="465.2" y="700">Apr</text><text x="536.6" y="700">2</text><text x="611.8" y="700">Jun</text><text x="686.7" y="700">Jul</text><text x="758" y="700">Aug</text><text x="835.5" y="700">Sep</text><text x="907.4" y="700">Oct</text><text x="982.1" y="700">Nov</text><text x="1057" y="700">Dec</text><text x="1129" y="700">2024</text><text x="1206.5" y="700">Feb</text><text x="1277.7" y="700">Mar</text><text x="1349.3" y="700">Apr</text></g><circle cx="1275" cy="574.5" r="8.4" fill="none" stroke="#b74fd3" stroke-width="1.4"/><path d="M1277.7,570.3 L1271.7,574.5 L1278.3,574.3 L1272.4,578.6" fill="none" stroke="#b74fd3" stroke-width="1.4" stroke-linejoin="round" stroke-linecap="round"/><text x="9" y="17.2" font-family="Liberation Sans, sans-serif" font-size="10.5" fill="#d1d4dc" stroke="#d1d4dc" stroke-width="0.3" textLength="329" lengthAdjust="spacingAndGlyphs">dacolmanfx published on TradingView.com, Feb 29, 2024 12:39 UTC-5</text><g font-family="Liberation Sans, sans-serif" font-size="10.4"><text x="16" y="41.1" fill="#b2b5be" stroke="#b2b5be" stroke-width="0.25" textLength="166.3" lengthAdjust="spacingAndGlyphs">U.S. Dollar / Japanese Yen, 1D, ICE</text><text x="189.3" y="41.1" fill="#b2b5be" stroke="#b2b5be" stroke-width="0.25">O</text><text x="197" y="41.1" fill="#ef5350" stroke="#ef5350" stroke-width="0.25">150.677</text><text x="240" y="41.1" fill="#b2b5be" stroke="#b2b5be" stroke-width="0.25">H</text><text x="247.4" y="41.1" fill="#ef5350" stroke="#ef5350" stroke-width="0.25">150.687</text><text x="290.4" y="41.1" fill="#b2b5be" stroke="#b2b5be" stroke-width="0.25">L</text><text x="295.7" y="41.1" fill="#ef5350" stroke="#ef5350" stroke-width="0.25">149.211</text><text x="339.4" y="41.1" fill="#b2b5be" stroke="#b2b5be" stroke-width="0.25">C</text><text x="345.7" y="41.1" fill="#ef5350" stroke="#ef5350" stroke-width="0.25">149.996</text><text x="389.4" y="41.1" fill="#ef5350" stroke="#ef5350" stroke-width="0.25">−0.676 (−0.45%)</text></g><g fill="#d1d4dc"><path d="M9,718.4H17.3V721.6H15.3V727.2H11.7V721.6H9Z"/><circle cx="19.1" cy="720.1" r="1.3"/><path d="M20.6,718.4H26L22.4,727.2H17Z"/></g><text x="29.2" y="727.7" font-family="Liberation Sans, sans-serif" font-size="11.2" fill="#d1d4dc" stroke="#d1d4dc" stroke-width="0.35" textLength="62" lengthAdjust="spacingAndGlyphs">TradingView</text><g transform="translate(1177.5,695) skewX(-13)"><text x="1.5" y="1.5" font-family="Liberation Sans, Noto Sans CJK SC, sans-serif" font-weight="900" font-size="56.3" fill="#0b0d14" fill-opacity="0.5" stroke="#0b0d14" stroke-opacity="0.5" stroke-width="1.3" textLength="240" lengthAdjust="spacingAndGlyphs">海马财经</text><text x="0" y="0" font-family="Liberation Sans, Noto Sans CJK SC, sans-serif" font-weight="900" font-size="56.3" fill="#9a9ca5" fill-opacity="0.97" stroke="#9a9ca5" stroke-width="1.3" textLength="240" lengthAdjust="spacingAndGlyphs">海马财经</text></g><g font-family="Liberation Sans, sans-serif" fill="#e4e5e9" fill-opacity="0.75"><text x="1206.5" y="700" font-size="10.5" text-anchor="middle">Feb</text><text x="1277.7" y="700" font-size="10.5" text-anchor="middle">Mar</text><text x="1349.3" y="700" font-size="10.5" text-anchor="middle">Apr</text><text x="1400" y="659.9" font-size="10" text-anchor="end">40.00</text></g><g transform="translate(1194,732.6) skewX(-14)"><text x="1" y="1" font-family="Liberation Sans, sans-serif" font-weight="700" font-size="29" fill="#0c0f18" fill-opacity="0.6" stroke="#0c0f18" stroke-opacity="0.6" stroke-width="1.6" textLength="222" lengthAdjust="spacing">zzrt01.cn</text><text x="0" y="0" font-family="Liberation Sans, sans-serif" font-weight="700" font-size="29" fill="#1d45b0" stroke="#1d45b0" stroke-width="1.6" textLength="222" lengthAdjust="spacing">zzrt01.cn</text></g></svg>
</body></html>
